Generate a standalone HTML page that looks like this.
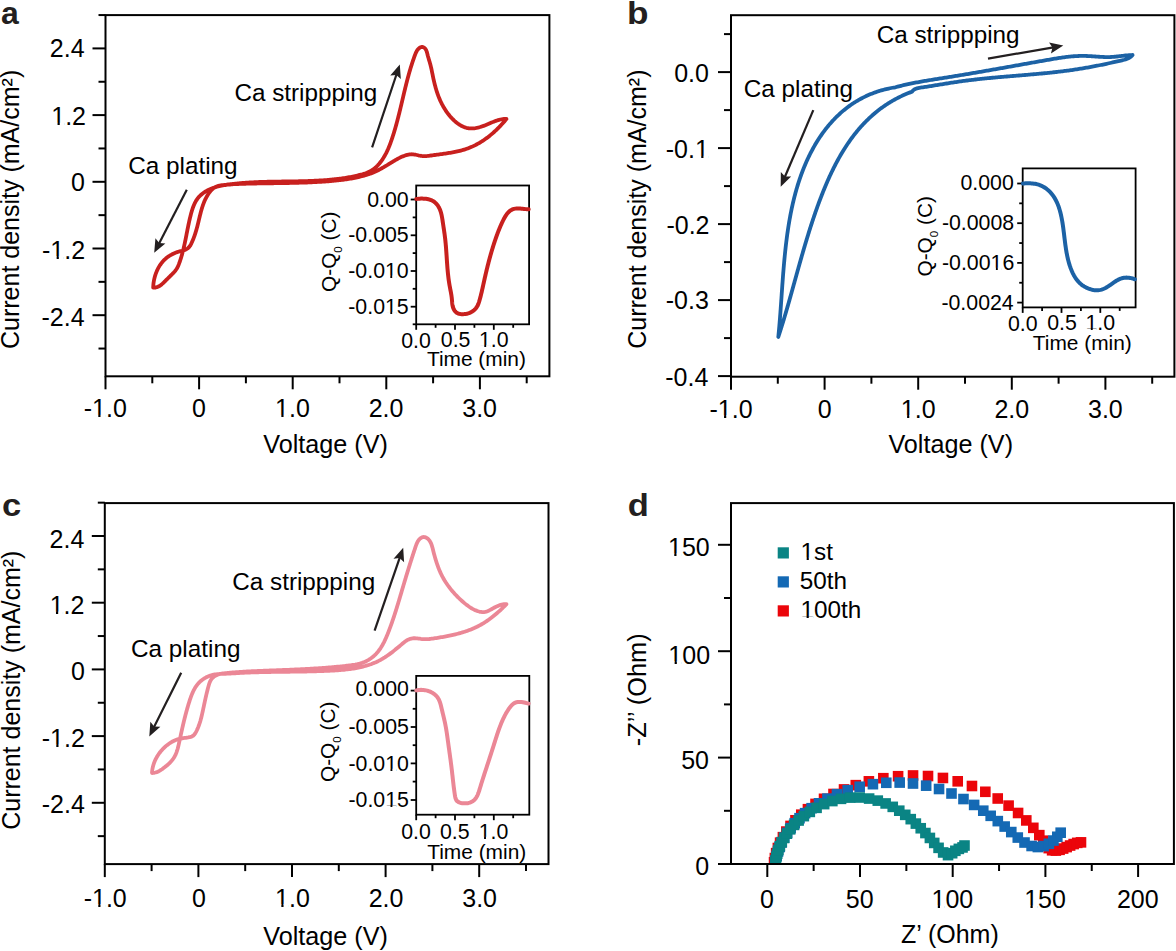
<!DOCTYPE html>
<html><head><meta charset="utf-8"><style>
html,body{margin:0;padding:0;background:#fff;}
svg{display:block;}
text{font-family:"Liberation Sans",sans-serif;}
</style></head><body>
<svg width="1176" height="951" viewBox="0 0 1176 951">
<rect width="1176" height="951" fill="#fff"/>
<defs><clipPath id="dclip"><rect x="731" y="503" width="443" height="361"/></clipPath></defs><g clip-path="url(#dclip)">
<g fill="#eb050a">
<rect x="768.76" y="856.93" width="10.6" height="10.6"/>
<rect x="769.58" y="852.76" width="10.6" height="10.6"/>
<rect x="770.86" y="847.84" width="10.6" height="10.6"/>
<rect x="772.57" y="842.7" width="10.6" height="10.6"/>
<rect x="774.8" y="837.36" width="10.6" height="10.6"/>
<rect x="777.6" y="831.87" width="10.6" height="10.6"/>
<rect x="781.06" y="826.27" width="10.6" height="10.6"/>
<rect x="785.23" y="820.63" width="10.6" height="10.6"/>
<rect x="790.18" y="814.98" width="10.6" height="10.6"/>
<rect x="795.98" y="809.38" width="10.6" height="10.6"/>
<rect x="802.65" y="803.9" width="10.6" height="10.6"/>
<rect x="810.23" y="798.6" width="10.6" height="10.6"/>
<rect x="818.74" y="793.51" width="10.6" height="10.6"/>
<rect x="828.2" y="788.69" width="10.6" height="10.6"/>
<rect x="838.73" y="784.14" width="10.6" height="10.6"/>
<rect x="850.49" y="779.86" width="10.6" height="10.6"/>
<rect x="863.57" y="776.03" width="10.6" height="10.6"/>
<rect x="878.04" y="772.9" width="10.6" height="10.6"/>
<rect x="892.79" y="770.92" width="10.6" height="10.6"/>
<rect x="907.74" y="770.17" width="10.6" height="10.6"/>
<rect x="922.71" y="770.73" width="10.6" height="10.6"/>
<rect x="937.64" y="772.66" width="10.6" height="10.6"/>
<rect x="952.41" y="776.01" width="10.6" height="10.6"/>
<rect x="966.66" y="780.7" width="10.6" height="10.6"/>
<rect x="980.03" y="786.49" width="10.6" height="10.6"/>
<rect x="992.42" y="793.2" width="10.6" height="10.6"/>
<rect x="1003.3" y="800.32" width="10.6" height="10.6"/>
<rect x="1012.78" y="807.68" width="10.6" height="10.6"/>
<rect x="1020.99" y="815.12" width="10.6" height="10.6"/>
<rect x="1028.02" y="822.54" width="10.6" height="10.6"/>
<rect x="1034" y="829.85" width="10.6" height="10.6"/>
<rect x="1037.99" y="835.39" width="10.6" height="10.6"/>
<rect x="1040.67" y="839.39" width="10.6" height="10.6"/>
<rect x="1043.43" y="842.82" width="10.6" height="10.6"/>
<rect x="1046.8" y="844.97" width="10.6" height="10.6"/>
<rect x="1050.56" y="845.28" width="10.6" height="10.6"/>
<rect x="1054.28" y="844.52" width="10.6" height="10.6"/>
<rect x="1057.86" y="843.26" width="10.6" height="10.6"/>
<rect x="1061.36" y="841.78" width="10.6" height="10.6"/>
<rect x="1064.83" y="840.23" width="10.6" height="10.6"/>
<rect x="1068.34" y="838.76" width="10.6" height="10.6"/>
<rect x="1071.94" y="837.56" width="10.6" height="10.6"/>
<rect x="1075.69" y="837.06" width="10.6" height="10.6"/>
</g>
<g fill="#1469b4">
<rect x="769.85" y="857.34" width="10.6" height="10.6"/>
<rect x="770.34" y="854.82" width="10.6" height="10.6"/>
<rect x="771.36" y="850.59" width="10.6" height="10.6"/>
<rect x="772.69" y="846.22" width="10.6" height="10.6"/>
<rect x="774.36" y="841.7" width="10.6" height="10.6"/>
<rect x="776.43" y="837.08" width="10.6" height="10.6"/>
<rect x="778.92" y="832.36" width="10.6" height="10.6"/>
<rect x="781.88" y="827.58" width="10.6" height="10.6"/>
<rect x="785.33" y="822.79" width="10.6" height="10.6"/>
<rect x="789.41" y="817.89" width="10.6" height="10.6"/>
<rect x="794.21" y="812.91" width="10.6" height="10.6"/>
<rect x="799.81" y="807.89" width="10.6" height="10.6"/>
<rect x="806.29" y="802.9" width="10.6" height="10.6"/>
<rect x="813.71" y="798.01" width="10.6" height="10.6"/>
<rect x="822.15" y="793.31" width="10.6" height="10.6"/>
<rect x="831.68" y="788.88" width="10.6" height="10.6"/>
<rect x="842.4" y="784.87" width="10.6" height="10.6"/>
<rect x="854.37" y="781.45" width="10.6" height="10.6"/>
<rect x="867.62" y="778.88" width="10.6" height="10.6"/>
<rect x="880.99" y="777.48" width="10.6" height="10.6"/>
<rect x="894.38" y="777.27" width="10.6" height="10.6"/>
<rect x="907.7" y="778.22" width="10.6" height="10.6"/>
<rect x="920.87" y="780.36" width="10.6" height="10.6"/>
<rect x="933.74" y="783.7" width="10.6" height="10.6"/>
<rect x="946.2" y="788.21" width="10.6" height="10.6"/>
<rect x="958.18" y="793.74" width="10.6" height="10.6"/>
<rect x="968.84" y="799.63" width="10.6" height="10.6"/>
<rect x="977.98" y="805.4" width="10.6" height="10.6"/>
<rect x="985.38" y="810.52" width="10.6" height="10.6"/>
<rect x="992.49" y="815.82" width="10.6" height="10.6"/>
<rect x="999.36" y="821.25" width="10.6" height="10.6"/>
<rect x="1005.98" y="826.77" width="10.6" height="10.6"/>
<rect x="1012.48" y="832.26" width="10.6" height="10.6"/>
<rect x="1019.23" y="837.23" width="10.6" height="10.6"/>
<rect x="1026.3" y="840.7" width="10.6" height="10.6"/>
<rect x="1032.56" y="841.74" width="10.6" height="10.6"/>
<rect x="1038.34" y="840.79" width="10.6" height="10.6"/>
<rect x="1043.57" y="838.47" width="10.6" height="10.6"/>
<rect x="1048.12" y="835.26" width="10.6" height="10.6"/>
<rect x="1052.01" y="831.48" width="10.6" height="10.6"/>
<rect x="1055.38" y="827.4" width="10.6" height="10.6"/>
</g>
<g fill="#0a8484">
<rect x="770.13" y="857.26" width="10.6" height="10.6"/>
<rect x="770.43" y="855.17" width="10.6" height="10.6"/>
<rect x="771.06" y="851.87" width="10.6" height="10.6"/>
<rect x="771.93" y="848.37" width="10.6" height="10.6"/>
<rect x="773.1" y="844.68" width="10.6" height="10.6"/>
<rect x="774.59" y="840.83" width="10.6" height="10.6"/>
<rect x="776.47" y="836.81" width="10.6" height="10.6"/>
<rect x="778.78" y="832.66" width="10.6" height="10.6"/>
<rect x="781.56" y="828.39" width="10.6" height="10.6"/>
<rect x="784.88" y="824.03" width="10.6" height="10.6"/>
<rect x="788.79" y="819.62" width="10.6" height="10.6"/>
<rect x="793.33" y="815.21" width="10.6" height="10.6"/>
<rect x="798.55" y="810.84" width="10.6" height="10.6"/>
<rect x="804.51" y="806.59" width="10.6" height="10.6"/>
<rect x="811.27" y="802.54" width="10.6" height="10.6"/>
<rect x="818.87" y="798.82" width="10.6" height="10.6"/>
<rect x="827.05" y="795.77" width="10.6" height="10.6"/>
<rect x="835.74" y="793.55" width="10.6" height="10.6"/>
<rect x="844.89" y="792.31" width="10.6" height="10.6"/>
<rect x="854.38" y="792.21" width="10.6" height="10.6"/>
<rect x="863.82" y="793.27" width="10.6" height="10.6"/>
<rect x="872.48" y="795.32" width="10.6" height="10.6"/>
<rect x="880.33" y="798.15" width="10.6" height="10.6"/>
<rect x="887.44" y="801.56" width="10.6" height="10.6"/>
<rect x="893.97" y="805.4" width="10.6" height="10.6"/>
<rect x="899.95" y="809.54" width="10.6" height="10.6"/>
<rect x="905.44" y="813.85" width="10.6" height="10.6"/>
<rect x="910.55" y="818.3" width="10.6" height="10.6"/>
<rect x="915.43" y="822.94" width="10.6" height="10.6"/>
<rect x="920.11" y="827.74" width="10.6" height="10.6"/>
<rect x="924.59" y="832.64" width="10.6" height="10.6"/>
<rect x="928.93" y="837.63" width="10.6" height="10.6"/>
<rect x="933.27" y="842.55" width="10.6" height="10.6"/>
<rect x="937.85" y="847.17" width="10.6" height="10.6"/>
<rect x="942.72" y="849.83" width="10.6" height="10.6"/>
<rect x="946.87" y="847.91" width="10.6" height="10.6"/>
<rect x="950.06" y="845.49" width="10.6" height="10.6"/>
<rect x="953.54" y="843.58" width="10.6" height="10.6"/>
<rect x="957.23" y="842.14" width="10.6" height="10.6"/>
<rect x="959.19" y="840.23" width="10.6" height="10.6"/>
</g>
</g>
<line x1="92.5" y1="48.41" x2="105.5" y2="48.41" stroke="#000" stroke-width="2"/>
<line x1="92.5" y1="115.1" x2="105.5" y2="115.1" stroke="#000" stroke-width="2"/>
<line x1="92.5" y1="181.8" x2="105.5" y2="181.8" stroke="#000" stroke-width="2"/>
<line x1="92.5" y1="248.5" x2="105.5" y2="248.5" stroke="#000" stroke-width="2"/>
<line x1="92.5" y1="315.19" x2="105.5" y2="315.19" stroke="#000" stroke-width="2"/>
<line x1="98.5" y1="15.06" x2="105.5" y2="15.06" stroke="#000" stroke-width="2"/>
<line x1="98.5" y1="81.76" x2="105.5" y2="81.76" stroke="#000" stroke-width="2"/>
<line x1="98.5" y1="148.45" x2="105.5" y2="148.45" stroke="#000" stroke-width="2"/>
<line x1="98.5" y1="215.15" x2="105.5" y2="215.15" stroke="#000" stroke-width="2"/>
<line x1="98.5" y1="281.84" x2="105.5" y2="281.84" stroke="#000" stroke-width="2"/>
<line x1="98.5" y1="348.54" x2="105.5" y2="348.54" stroke="#000" stroke-width="2"/>
<line x1="105.5" y1="376.3" x2="105.5" y2="389.3" stroke="#000" stroke-width="2"/>
<line x1="199.1" y1="376.3" x2="199.1" y2="389.3" stroke="#000" stroke-width="2"/>
<line x1="292.7" y1="376.3" x2="292.7" y2="389.3" stroke="#000" stroke-width="2"/>
<line x1="386.3" y1="376.3" x2="386.3" y2="389.3" stroke="#000" stroke-width="2"/>
<line x1="479.9" y1="376.3" x2="479.9" y2="389.3" stroke="#000" stroke-width="2"/>
<line x1="152.3" y1="376.3" x2="152.3" y2="383.3" stroke="#000" stroke-width="2"/>
<line x1="245.9" y1="376.3" x2="245.9" y2="383.3" stroke="#000" stroke-width="2"/>
<line x1="339.5" y1="376.3" x2="339.5" y2="383.3" stroke="#000" stroke-width="2"/>
<line x1="433.1" y1="376.3" x2="433.1" y2="383.3" stroke="#000" stroke-width="2"/>
<line x1="526.7" y1="376.3" x2="526.7" y2="383.3" stroke="#000" stroke-width="2"/>
<rect x="105.5" y="15.1" width="443.9" height="361.2" fill="none" stroke="#000" stroke-width="2"/>
<text x="84.6" y="57.39" font-size="25" text-anchor="end">2.4</text>
<text x="86.04" y="125.06" font-size="25" text-anchor="end">1.2</text>
<text x="84.96" y="191.16" font-size="25" text-anchor="end">0</text>
<text x="85.14" y="258.62" font-size="25" text-anchor="end">-1.2</text>
<text x="84.6" y="325.8" font-size="25" text-anchor="end">-2.4</text>
<text x="105.25" y="417.18" font-size="25" text-anchor="middle">-1.0</text>
<text x="198.85" y="417.18" font-size="25" text-anchor="middle">0</text>
<text x="292.45" y="417.18" font-size="25" text-anchor="middle">1.0</text>
<text x="386.05" y="417.18" font-size="25" text-anchor="middle">2.0</text>
<text x="479.65" y="417.18" font-size="25" text-anchor="middle">3.0</text>
<text x="1.02" y="23.6" font-size="32" font-weight="bold" fill="#231f20">a</text>
<text transform="translate(19.28,349) rotate(-90)" font-size="25">Current density (mA/cm²)</text>
<text x="263.25" y="453.08" font-size="25.2">Voltage (V)</text>
<text x="234.4" y="100.58" font-size="24.25">Ca strippping</text>
<text x="128.2" y="173.61" font-size="24.3">Ca plating</text>
<line x1="372.1" y1="147.4" x2="396.63" y2="73.98" stroke="#231f20" stroke-width="2.2"/>
<path d="M399.8,64.5 L400.83,79.08 L396.31,74.93 L390.21,75.53 Z" fill="#231f20"/>
<line x1="186.8" y1="189.8" x2="158.8" y2="243.92" stroke="#231f20" stroke-width="2.2"/>
<path d="M154.2,252.8 L155.43,238.24 L159.26,243.03 L165.38,243.38 Z" fill="#231f20"/>
<path d="M506.5,118.9 505.74,119.82 504.96,120.73 504.18,121.64 503.39,122.55 502.59,123.44 501.78,124.33 500.96,125.22 500.13,126.09 499.3,126.96 498.45,127.83 497.59,128.68 496.73,129.52 495.86,130.36 494.97,131.18 494.08,132 493.18,132.8 492.27,133.6 491.35,134.38 490.42,135.15 489.48,135.91 488.53,136.66 487.58,137.39 486.61,138.11 485.64,138.82 484.66,139.52 483.67,140.2 482.67,140.86 481.66,141.51 480.64,142.15 479.61,142.77 478.58,143.37 477.53,143.96 476.48,144.53 475.42,145.08 474.35,145.61 473.27,146.13 472.18,146.63 471.08,147.11 469.97,147.57 468.86,148.01 467.74,148.43 466.61,148.83 465.47,149.21 464.32,149.57 463.17,149.91 462.01,150.24 460.84,150.55 459.67,150.85 458.49,151.13 457.31,151.4 456.13,151.66 454.94,151.9 453.75,152.13 452.55,152.35 451.36,152.57 450.16,152.77 448.96,152.97 447.77,153.16 446.57,153.34 445.37,153.52 444.18,153.69 442.98,153.86 441.79,154.03 440.6,154.19 439.42,154.35 438.23,154.52 437.05,154.68 435.87,154.84 434.69,155 433.51,155.17 432.32,155.33 431.13,155.5 429.94,155.66 428.74,155.81 427.55,155.94 426.35,156.04 425.15,156.09 423.95,156.1 422.75,156.05 421.56,155.93 420.37,155.75 419.18,155.52 418,155.26 416.81,154.99 415.63,154.74 414.45,154.52 413.27,154.36 412.09,154.27 410.91,154.28 409.74,154.39 408.56,154.58 407.4,154.84 406.24,155.16 405.09,155.53 403.96,155.93 402.84,156.37 401.73,156.84 400.63,157.34 399.55,157.86 398.47,158.41 397.4,158.98 396.34,159.57 395.28,160.18 394.24,160.79 393.19,161.42 392.15,162.06 391.12,162.7 390.08,163.34 389.05,163.98 388.02,164.62 386.99,165.25 385.96,165.88 384.93,166.49 383.9,167.1 382.86,167.7 381.82,168.28 380.78,168.85 379.73,169.41 378.67,169.96 377.61,170.49 376.54,171.01 375.46,171.52 374.38,172 373.28,172.47 372.17,172.93 371.05,173.36 369.93,173.78 368.78,174.18 367.63,174.56 366.48,174.92 365.31,175.27 364.14,175.61 362.96,175.93 361.78,176.23 360.6,176.53 359.42,176.81 358.24,177.08 357.06,177.35 355.88,177.6 354.69,177.84 353.51,178.07 352.33,178.3 351.14,178.51 349.96,178.71 348.77,178.91 347.59,179.1 346.4,179.28 345.21,179.45 344.03,179.62 342.84,179.77 341.65,179.93 340.46,180.07 339.27,180.21 338.08,180.34 336.89,180.47 335.7,180.59 334.51,180.71 333.31,180.82 332.12,180.93 330.93,181.04 329.73,181.14 328.54,181.24 327.34,181.33 326.15,181.42 324.95,181.51 323.75,181.59 322.55,181.67 321.36,181.75 320.16,181.83 318.96,181.9 317.76,181.97 316.56,182.03 315.36,182.1 314.16,182.16 312.95,182.22 311.75,182.27 310.55,182.33 309.35,182.38 308.14,182.43 306.94,182.48 305.74,182.52 304.53,182.57 303.33,182.61 302.12,182.65 300.92,182.69 299.71,182.72 298.51,182.76 297.3,182.79 296.1,182.82 294.89,182.85 293.68,182.88 292.48,182.91 291.27,182.93 290.06,182.96 288.86,182.98 287.65,183 286.44,183.03 285.24,183.05 284.03,183.07 282.82,183.09 281.62,183.11 280.41,183.12 279.2,183.14 277.99,183.16 276.79,183.18 275.58,183.19 274.37,183.21 273.17,183.23 271.96,183.24 270.75,183.26 269.55,183.28 268.34,183.3 267.14,183.31 265.93,183.33 264.73,183.35 263.52,183.37 262.31,183.39 261.11,183.41 259.91,183.43 258.7,183.45 257.5,183.47 256.29,183.49 255.09,183.51 253.89,183.54 252.69,183.57 251.48,183.59 250.28,183.62 249.08,183.65 247.88,183.68 246.68,183.71 245.48,183.75 244.28,183.78 243.08,183.82 241.88,183.86 240.69,183.9 239.49,183.95 238.29,183.99 237.1,184.04 235.9,184.1 234.71,184.16 233.51,184.22 232.32,184.3 231.13,184.39 229.94,184.49 228.74,184.6 227.55,184.73 226.37,184.87 225.18,185.03 223.99,185.21 222.8,185.41 221.62,185.63 220.43,185.87 219.25,186.13 218.07,186.42 216.89,186.74 215.71,187.08 214.54,187.45 213.38,187.85 212.22,188.27 211.08,188.72 209.96,189.21 208.85,189.72 207.76,190.26 206.69,190.84 205.65,191.44 204.63,192.08 203.65,192.75 202.69,193.45 201.76,194.19 200.87,194.96 200.02,195.77 199.2,196.61 198.43,197.49 197.7,198.4 197.02,199.35 196.37,200.33 195.77,201.34 195.2,202.38 194.67,203.45 194.16,204.54 193.69,205.65 193.25,206.77 192.83,207.92 192.43,209.08 192.06,210.25 191.7,211.42 191.37,212.61 191.04,213.8 190.73,214.99 190.43,216.18 190.13,217.37 189.85,218.56 189.57,219.75 189.3,220.94 189.04,222.12 188.78,223.31 188.53,224.49 188.28,225.67 188.04,226.85 187.8,228.03 187.56,229.21 187.33,230.39 187.1,231.57 186.87,232.74 186.63,233.92 186.4,235.09 186.17,236.26 185.94,237.44 185.71,238.61 185.47,239.78 185.23,240.94 184.99,242.11 184.74,243.28 184.49,244.45 184.23,245.61 183.97,246.77 183.7,247.94 183.42,249.1 183.13,250.26 182.84,251.42 182.54,252.58 182.23,253.74 181.91,254.9 181.58,256.06 181.23,257.21 180.88,258.37 180.51,259.52 180.13,260.68 179.74,261.83 179.33,262.98 178.9,264.13 178.44,265.26 177.95,266.37 177.42,267.45 176.83,268.5 176.19,269.5 175.5,270.47 174.76,271.39 173.97,272.28 173.15,273.15 172.31,274.01 171.46,274.85 170.6,275.7 169.73,276.54 168.87,277.39 168.02,278.25 167.16,279.1 166.29,279.96 165.43,280.82 164.56,281.67 163.68,282.52 162.78,283.36 161.87,284.17 160.94,284.94 159.98,285.65 158.98,286.28 157.94,286.81 156.84,287.22 155.69,287.5 154.48,287.64 153.2,287.6 153.24,286.44 153.32,285.27 153.42,284.09 153.56,282.91 153.74,281.73 153.94,280.54 154.18,279.36 154.45,278.18 154.76,277 155.09,275.82 155.46,274.66 155.86,273.5 156.3,272.36 156.77,271.23 157.26,270.11 157.8,269.01 158.36,267.93 158.96,266.87 159.59,265.83 160.25,264.82 160.94,263.83 161.67,262.87 162.42,261.94 163.21,261.04 164.04,260.17 164.89,259.34 165.77,258.55 166.69,257.79 167.64,257.07 168.61,256.38 169.61,255.73 170.64,255.12 171.68,254.54 172.75,254 173.84,253.49 174.95,253.01 176.08,252.57 177.22,252.16 178.37,251.78 179.54,251.44 180.71,251.12 181.89,250.83 183.07,250.51 184.24,250.14 185.39,249.69 186.5,249.15 187.53,248.51 188.46,247.76 189.27,246.9 189.98,245.94 190.6,244.91 191.16,243.83 191.68,242.73 192.18,241.63 192.66,240.52 193.12,239.41 193.57,238.29 193.99,237.17 194.4,236.05 194.79,234.92 195.17,233.78 195.53,232.64 195.88,231.5 196.22,230.35 196.55,229.2 196.87,228.05 197.18,226.89 197.49,225.72 197.78,224.56 198.07,223.39 198.36,222.21 198.64,221.03 198.92,219.85 199.2,218.67 199.49,217.49 199.77,216.31 200.06,215.13 200.36,213.95 200.66,212.77 200.97,211.6 201.29,210.43 201.62,209.27 201.97,208.11 202.33,206.96 202.71,205.81 203.1,204.68 203.52,203.55 203.95,202.43 204.41,201.32 204.89,200.23 205.4,199.14 205.93,198.07 206.49,197.02 207.08,195.97 207.7,194.95 208.36,193.93 209.04,192.94 209.77,191.98 210.53,191.04 211.34,190.16 212.19,189.32 213.09,188.55 214.03,187.84 215.03,187.22 216.07,186.68 217.18,186.24 218.34,185.89 219.53,185.62 220.76,185.41 222,185.24 223.24,185.08 224.47,184.93 225.7,184.78 226.91,184.63 228.11,184.48 229.31,184.34 230.51,184.19 231.7,184.05 232.88,183.91 234.07,183.78 235.25,183.65 236.44,183.52 237.63,183.41 238.81,183.29 240,183.18 241.19,183.08 242.38,182.98 243.58,182.89 244.77,182.8 245.96,182.71 247.16,182.63 248.35,182.55 249.55,182.48 250.75,182.41 251.94,182.34 253.14,182.28 254.34,182.22 255.54,182.17 256.74,182.11 257.94,182.06 259.14,182.02 260.34,181.97 261.54,181.93 262.75,181.89 263.95,181.86 265.15,181.82 266.36,181.79 267.56,181.76 268.77,181.73 269.97,181.71 271.18,181.68 272.38,181.66 273.59,181.64 274.8,181.62 276,181.6 277.21,181.58 278.42,181.56 279.62,181.54 280.83,181.53 282.04,181.51 283.25,181.49 284.46,181.48 285.66,181.46 286.87,181.45 288.08,181.43 289.29,181.41 290.49,181.4 291.7,181.38 292.91,181.36 294.12,181.34 295.33,181.32 296.53,181.3 297.74,181.28 298.95,181.25 300.15,181.23 301.36,181.2 302.57,181.17 303.77,181.14 304.98,181.11 306.18,181.07 307.39,181.04 308.59,181 309.8,180.96 311,180.91 312.2,180.86 313.41,180.81 314.61,180.76 315.81,180.7 317.01,180.64 318.21,180.58 319.41,180.51 320.61,180.44 321.81,180.37 323.01,180.29 324.2,180.21 325.4,180.12 326.6,180.03 327.79,179.93 328.99,179.83 330.18,179.73 331.37,179.62 332.56,179.5 333.76,179.38 334.95,179.25 336.14,179.12 337.32,178.98 338.51,178.84 339.7,178.69 340.89,178.53 342.07,178.37 343.26,178.2 344.45,178.02 345.63,177.83 346.82,177.64 348,177.44 349.18,177.23 350.37,177.01 351.55,176.78 352.73,176.54 353.92,176.3 355.1,176.04 356.28,175.78 357.46,175.51 358.65,175.22 359.83,174.93 361.01,174.62 362.19,174.31 363.36,173.97 364.53,173.61 365.68,173.23 366.82,172.81 367.93,172.35 369.02,171.85 370.08,171.31 371.12,170.71 372.12,170.08 373.1,169.4 374.06,168.69 374.98,167.93 375.88,167.14 376.75,166.32 377.6,165.47 378.42,164.59 379.22,163.69 379.99,162.75 380.74,161.8 381.46,160.83 382.16,159.84 382.84,158.83 383.49,157.81 384.12,156.77 384.73,155.73 385.32,154.68 385.89,153.62 386.43,152.55 386.96,151.47 387.47,150.38 387.97,149.29 388.44,148.19 388.91,147.09 389.36,145.98 389.8,144.86 390.22,143.74 390.64,142.61 391.04,141.48 391.44,140.35 391.83,139.21 392.21,138.07 392.59,136.93 392.96,135.78 393.32,134.63 393.68,133.48 394.04,132.33 394.39,131.17 394.73,130.02 395.07,128.86 395.4,127.7 395.73,126.54 396.06,125.37 396.38,124.21 396.7,123.04 397.01,121.87 397.32,120.71 397.63,119.54 397.93,118.37 398.23,117.2 398.53,116.03 398.82,114.86 399.12,113.69 399.41,112.52 399.69,111.34 399.98,110.17 400.26,109 400.54,107.83 400.82,106.66 401.1,105.49 401.38,104.33 401.65,103.16 401.93,101.99 402.2,100.82 402.48,99.66 402.75,98.49 403.02,97.33 403.3,96.16 403.57,95 403.85,93.83 404.12,92.67 404.4,91.51 404.68,90.34 404.96,89.18 405.24,88.02 405.53,86.86 405.82,85.69 406.11,84.53 406.4,83.37 406.69,82.21 406.99,81.05 407.29,79.89 407.6,78.73 407.91,77.57 408.22,76.41 408.54,75.25 408.86,74.09 409.18,72.93 409.51,71.77 409.85,70.61 410.19,69.45 410.54,68.29 410.89,67.13 411.25,65.97 411.62,64.81 411.99,63.65 412.37,62.49 412.75,61.33 413.14,60.17 413.54,59.01 413.95,57.85 414.37,56.68 414.79,55.52 415.22,54.36 415.68,53.22 416.19,52.11 416.75,51.05 417.4,50.05 418.14,49.12 418.99,48.3 419.96,47.6 421,47.12 422.07,46.94 423.12,47.13 424.11,47.63 424.99,48.39 425.71,49.34 426.28,50.44 426.73,51.63 427.11,52.89 427.44,54.17 427.75,55.43 428.08,56.65 428.41,57.83 428.74,58.98 429.07,60.11 429.41,61.22 429.73,62.33 430.05,63.44 430.36,64.56 430.66,65.69 430.94,66.84 431.21,68.01 431.47,69.19 431.72,70.38 431.96,71.58 432.2,72.78 432.45,73.99 432.69,75.19 432.93,76.4 433.19,77.59 433.44,78.79 433.71,79.98 433.98,81.16 434.25,82.34 434.54,83.51 434.83,84.68 435.14,85.84 435.45,87 435.77,88.15 436.11,89.29 436.45,90.43 436.81,91.57 437.18,92.69 437.56,93.82 437.96,94.93 438.37,96.04 438.8,97.14 439.24,98.24 439.7,99.33 440.17,100.41 440.66,101.48 441.17,102.55 441.7,103.61 442.24,104.67 442.81,105.71 443.39,106.75 444,107.78 444.62,108.8 445.27,109.82 445.94,110.83 446.63,111.83 447.35,112.82 448.09,113.8 448.85,114.77 449.64,115.74 450.45,116.69 451.29,117.63 452.15,118.55 453.03,119.44 453.93,120.32 454.85,121.16 455.8,121.98 456.76,122.76 457.74,123.5 458.74,124.2 459.75,124.87 460.78,125.48 461.83,126.05 462.89,126.56 463.97,127.02 465.06,127.42 466.16,127.76 467.28,128.03 468.41,128.24 469.55,128.38 470.69,128.45 471.85,128.45 473.02,128.4 474.19,128.28 475.36,128.12 476.54,127.91 477.72,127.65 478.9,127.35 480.08,127.02 481.25,126.66 482.43,126.26 483.59,125.85 484.76,125.41 485.91,124.96 487.06,124.49 488.2,124.02 489.32,123.54 490.43,123.06 491.54,122.59 492.63,122.12 493.73,121.67 494.82,121.24 495.92,120.83 497.02,120.45 498.13,120.09 499.26,119.78 500.41,119.5 501.57,119.27 502.76,119.09 503.98,118.97 505.22,118.9 506.5,118.9Z" fill="none" stroke="#c8201e" stroke-width="3.8" stroke-linejoin="round" stroke-linecap="round"/>
<line x1="410.7" y1="199.5" x2="416.2" y2="199.5" stroke="#000" stroke-width="1.8"/>
<line x1="410.7" y1="235.3" x2="416.2" y2="235.3" stroke="#000" stroke-width="1.8"/>
<line x1="410.7" y1="271" x2="416.2" y2="271" stroke="#000" stroke-width="1.8"/>
<line x1="410.7" y1="306.7" x2="416.2" y2="306.7" stroke="#000" stroke-width="1.8"/>
<line x1="412.7" y1="217.4" x2="416.2" y2="217.4" stroke="#000" stroke-width="1.8"/>
<line x1="412.7" y1="253.1" x2="416.2" y2="253.1" stroke="#000" stroke-width="1.8"/>
<line x1="412.7" y1="288.8" x2="416.2" y2="288.8" stroke="#000" stroke-width="1.8"/>
<line x1="412.7" y1="324.3" x2="416.2" y2="324.3" stroke="#000" stroke-width="1.8"/>
<line x1="416.2" y1="324.3" x2="416.2" y2="329.8" stroke="#000" stroke-width="1.8"/>
<line x1="455" y1="324.3" x2="455" y2="329.8" stroke="#000" stroke-width="1.8"/>
<line x1="493.8" y1="324.3" x2="493.8" y2="329.8" stroke="#000" stroke-width="1.8"/>
<line x1="435.6" y1="324.3" x2="435.6" y2="327.8" stroke="#000" stroke-width="1.8"/>
<line x1="474.4" y1="324.3" x2="474.4" y2="327.8" stroke="#000" stroke-width="1.8"/>
<line x1="513.2" y1="324.3" x2="513.2" y2="327.8" stroke="#000" stroke-width="1.8"/>
<rect x="416.2" y="185.5" width="112.9" height="138.8" fill="none" stroke="#000" stroke-width="1.8"/>
<text x="408.71" y="207.2" font-size="21.3" text-anchor="end">0.00</text>
<text x="408.68" y="242.45" font-size="21.3" text-anchor="end">-0.005</text>
<text x="408.68" y="277.61" font-size="21.3" text-anchor="end">-0.010</text>
<text x="408.68" y="313.99" font-size="21.3" text-anchor="end">-0.015</text>
<text x="415.93" y="348.2" font-size="21.3" text-anchor="middle">0.0</text>
<text x="455.6" y="347" font-size="21.3" text-anchor="middle">0.5</text>
<text x="493.75" y="347" font-size="21.3" text-anchor="middle">1.0</text>
<path d="M416.3,199 417.41,198.87 418.56,198.76 419.76,198.67 420.98,198.62 422.22,198.6 423.47,198.63 424.73,198.71 425.98,198.84 427.22,199.02 428.45,199.27 429.64,199.59 430.8,199.98 431.91,200.45 432.97,201 433.97,201.65 434.9,202.37 435.78,203.17 436.59,204.04 437.35,204.96 438.04,205.94 438.67,206.96 439.23,208.02 439.74,209.1 440.19,210.21 440.6,211.35 440.95,212.5 441.27,213.67 441.55,214.86 441.8,216.06 442.03,217.26 442.23,218.47 442.43,219.69 442.61,220.91 442.79,222.12 442.97,223.33 443.15,224.53 443.34,225.73 443.52,226.93 443.7,228.12 443.88,229.32 444.06,230.51 444.23,231.69 444.4,232.88 444.57,234.07 444.73,235.26 444.88,236.45 445.03,237.64 445.17,238.83 445.31,240.03 445.43,241.23 445.55,242.43 445.67,243.63 445.77,244.83 445.88,246.04 445.98,247.24 446.07,248.45 446.16,249.66 446.25,250.87 446.34,252.08 446.42,253.29 446.5,254.5 446.58,255.72 446.66,256.93 446.74,258.14 446.82,259.36 446.9,260.57 446.99,261.78 447.07,263 447.16,264.21 447.24,265.42 447.34,266.63 447.43,267.84 447.53,269.05 447.64,270.26 447.75,271.47 447.86,272.67 447.98,273.87 448.11,275.08 448.25,276.28 448.39,277.47 448.54,278.67 448.7,279.86 448.86,281.05 449.04,282.24 449.23,283.43 449.43,284.61 449.63,285.79 449.85,286.97 450.08,288.15 450.31,289.32 450.54,290.5 450.77,291.68 450.99,292.87 451.2,294.06 451.4,295.26 451.57,296.47 451.73,297.69 451.86,298.93 451.97,300.18 452.07,301.43 452.17,302.68 452.3,303.92 452.48,305.15 452.72,306.34 453.04,307.5 453.46,308.62 453.98,309.68 454.61,310.67 455.34,311.56 456.18,312.35 457.11,313 458.15,313.51 459.27,313.86 460.47,314.08 461.71,314.17 462.96,314.18 464.22,314.1 465.46,313.96 466.68,313.74 467.87,313.45 469.04,313.07 470.18,312.61 471.27,312.07 472.32,311.45 473.32,310.76 474.25,310 475.12,309.17 475.92,308.27 476.63,307.32 477.26,306.3 477.8,305.23 478.28,304.12 478.69,302.98 479.07,301.82 479.42,300.64 479.76,299.47 480.08,298.29 480.39,297.12 480.7,295.94 480.99,294.77 481.28,293.59 481.57,292.42 481.84,291.24 482.11,290.06 482.38,288.89 482.64,287.71 482.9,286.54 483.16,285.36 483.42,284.19 483.68,283.01 483.94,281.83 484.2,280.66 484.46,279.48 484.72,278.3 484.99,277.12 485.26,275.94 485.53,274.76 485.8,273.58 486.08,272.4 486.36,271.23 486.64,270.05 486.93,268.87 487.22,267.69 487.51,266.51 487.81,265.34 488.1,264.16 488.41,262.98 488.71,261.81 489.02,260.63 489.33,259.46 489.65,258.29 489.97,257.12 490.29,255.95 490.62,254.78 490.95,253.62 491.29,252.45 491.63,251.29 491.97,250.13 492.32,248.97 492.67,247.81 493.03,246.66 493.39,245.5 493.76,244.35 494.13,243.2 494.51,242.06 494.89,240.91 495.27,239.77 495.66,238.64 496.06,237.5 496.46,236.37 496.86,235.24 497.28,234.11 497.69,232.99 498.12,231.87 498.55,230.75 499,229.63 499.45,228.52 499.91,227.4 500.39,226.29 500.87,225.18 501.37,224.07 501.88,222.97 502.41,221.86 502.95,220.75 503.51,219.64 504.09,218.54 504.68,217.45 505.31,216.37 505.97,215.33 506.66,214.32 507.4,213.36 508.19,212.47 509.03,211.64 509.93,210.88 510.9,210.22 511.93,209.65 513.02,209.19 514.16,208.85 515.35,208.63 516.56,208.49 517.78,208.44 519.01,208.46 520.24,208.53 521.47,208.64 522.69,208.77 523.91,208.9 525.12,209.03 526.32,209.13 527.52,209.19 528.7,209.2" fill="none" stroke="#c8201e" stroke-width="4.0" stroke-linejoin="round" stroke-linecap="round"/>
<text x="426.92" y="366.25" font-size="20.9">Time (min)</text>
<text transform="translate(335.93,291.97) rotate(-90)" font-size="20.8">Q-Q<tspan font-size="11.5" dy="5.8">0</tspan><tspan dy="-5.8"> (C)</tspan></text>
<line x1="718" y1="72.1" x2="731" y2="72.1" stroke="#000" stroke-width="2"/>
<line x1="718" y1="148.1" x2="731" y2="148.1" stroke="#000" stroke-width="2"/>
<line x1="718" y1="224.1" x2="731" y2="224.1" stroke="#000" stroke-width="2"/>
<line x1="718" y1="300.1" x2="731" y2="300.1" stroke="#000" stroke-width="2"/>
<line x1="718" y1="376.1" x2="731" y2="376.1" stroke="#000" stroke-width="2"/>
<line x1="724" y1="34.1" x2="731" y2="34.1" stroke="#000" stroke-width="2"/>
<line x1="724" y1="110.1" x2="731" y2="110.1" stroke="#000" stroke-width="2"/>
<line x1="724" y1="186.1" x2="731" y2="186.1" stroke="#000" stroke-width="2"/>
<line x1="724" y1="262.1" x2="731" y2="262.1" stroke="#000" stroke-width="2"/>
<line x1="724" y1="338.1" x2="731" y2="338.1" stroke="#000" stroke-width="2"/>
<line x1="731" y1="376.7" x2="731" y2="389.7" stroke="#000" stroke-width="2"/>
<line x1="824.6" y1="376.7" x2="824.6" y2="389.7" stroke="#000" stroke-width="2"/>
<line x1="918.2" y1="376.7" x2="918.2" y2="389.7" stroke="#000" stroke-width="2"/>
<line x1="1011.8" y1="376.7" x2="1011.8" y2="389.7" stroke="#000" stroke-width="2"/>
<line x1="1105.4" y1="376.7" x2="1105.4" y2="389.7" stroke="#000" stroke-width="2"/>
<line x1="777.8" y1="376.7" x2="777.8" y2="383.7" stroke="#000" stroke-width="2"/>
<line x1="871.4" y1="376.7" x2="871.4" y2="383.7" stroke="#000" stroke-width="2"/>
<line x1="965" y1="376.7" x2="965" y2="383.7" stroke="#000" stroke-width="2"/>
<line x1="1058.6" y1="376.7" x2="1058.6" y2="383.7" stroke="#000" stroke-width="2"/>
<line x1="1152.2" y1="376.7" x2="1152.2" y2="383.7" stroke="#000" stroke-width="2"/>
<rect x="731" y="15.2" width="443.4" height="361.5" fill="none" stroke="#000" stroke-width="2"/>
<text x="708.9" y="82" font-size="25" text-anchor="end">0.0</text>
<text x="708.9" y="158.15" font-size="25" text-anchor="end">-0.1</text>
<text x="709.54" y="233.64" font-size="25" text-anchor="end">-0.2</text>
<text x="708.9" y="309.35" font-size="25" text-anchor="end">-0.3</text>
<text x="708.34" y="385.82" font-size="25" text-anchor="end">-0.4</text>
<text x="731" y="417.6" font-size="25" text-anchor="middle">-1.0</text>
<text x="824.6" y="417.6" font-size="25" text-anchor="middle">0</text>
<text x="918.2" y="417.6" font-size="25" text-anchor="middle">1.0</text>
<text x="1011.8" y="417.6" font-size="25" text-anchor="middle">2.0</text>
<text x="1105.4" y="417.6" font-size="25" text-anchor="middle">3.0</text>
<text transform="translate(627.03,23.6) scale(1.1,1)" font-size="32" font-weight="bold" fill="#231f20">b</text>
<text transform="translate(645.6,348.76) rotate(-90)" font-size="25">Current density (mA/cm²)</text>
<text x="888.41" y="453.3" font-size="25.2">Voltage (V)</text>
<text x="876.7" y="43.28" font-size="24.25">Ca strippping</text>
<text x="743.7" y="97" font-size="24.3">Ca plating</text>
<line x1="988" y1="58.6" x2="1053.45" y2="47.3" stroke="#231f20" stroke-width="2.2"/>
<path d="M1063.3,45.6 L1050.95,53.42 L1052.46,47.47 L1049.04,42.38 Z" fill="#231f20"/>
<line x1="813.3" y1="110.1" x2="784.62" y2="177.5" stroke="#231f20" stroke-width="2.2"/>
<path d="M780.7,186.7 L780.83,172.09 L785.01,176.58 L791.14,176.47 Z" fill="#231f20"/>
<path d="M1132.6,55 1131.75,55.93 1130.84,56.74 1129.87,57.43 1128.85,58.03 1127.79,58.55 1126.68,58.99 1125.55,59.38 1124.39,59.72 1123.22,60.02 1122.04,60.31 1120.85,60.58 1119.66,60.86 1118.47,61.13 1117.28,61.4 1116.09,61.67 1114.9,61.94 1113.71,62.21 1112.53,62.47 1111.34,62.74 1110.15,63 1108.96,63.26 1107.77,63.51 1106.58,63.77 1105.39,64.02 1104.2,64.27 1103.01,64.52 1101.82,64.77 1100.63,65.01 1099.44,65.25 1098.25,65.49 1097.06,65.73 1095.86,65.96 1094.67,66.19 1093.48,66.42 1092.29,66.65 1091.1,66.87 1089.9,67.09 1088.71,67.31 1087.52,67.52 1086.32,67.73 1085.13,67.94 1083.93,68.15 1082.74,68.35 1081.54,68.55 1080.35,68.74 1079.15,68.93 1077.96,69.12 1076.76,69.31 1075.56,69.49 1074.36,69.67 1073.17,69.84 1071.97,70.01 1070.77,70.18 1069.57,70.35 1068.37,70.51 1067.17,70.67 1065.97,70.83 1064.77,70.98 1063.57,71.14 1062.37,71.29 1061.16,71.43 1059.96,71.58 1058.76,71.72 1057.56,71.86 1056.36,72 1055.15,72.13 1053.95,72.26 1052.75,72.39 1051.54,72.52 1050.34,72.65 1049.13,72.78 1047.93,72.9 1046.72,73.02 1045.52,73.14 1044.31,73.26 1043.11,73.38 1041.9,73.49 1040.7,73.6 1039.49,73.72 1038.28,73.83 1037.08,73.94 1035.87,74.05 1034.66,74.15 1033.46,74.26 1032.25,74.37 1031.04,74.47 1029.83,74.58 1028.63,74.68 1027.42,74.78 1026.21,74.88 1025,74.99 1023.8,75.09 1022.59,75.19 1021.38,75.29 1020.17,75.39 1018.96,75.49 1017.75,75.59 1016.55,75.69 1015.34,75.79 1014.13,75.89 1012.92,75.99 1011.71,76.09 1010.5,76.19 1009.3,76.29 1008.09,76.39 1006.88,76.49 1005.67,76.59 1004.46,76.69 1003.25,76.8 1002.04,76.9 1000.84,77 999.63,77.11 998.42,77.22 997.21,77.32 996,77.43 994.79,77.54 993.59,77.65 992.38,77.76 991.17,77.87 989.96,77.99 988.75,78.1 987.55,78.22 986.34,78.34 985.13,78.46 983.92,78.58 982.72,78.71 981.51,78.83 980.3,78.96 979.1,79.09 977.89,79.22 976.68,79.36 975.48,79.49 974.27,79.63 973.07,79.77 971.86,79.91 970.66,80.06 969.45,80.21 968.25,80.36 967.04,80.51 965.84,80.66 964.63,80.82 963.43,80.98 962.22,81.15 961.02,81.31 959.82,81.48 958.61,81.66 957.41,81.83 956.21,82.01 955.01,82.19 953.81,82.37 952.61,82.55 951.41,82.74 950.21,82.93 949.01,83.12 947.81,83.31 946.61,83.5 945.41,83.69 944.21,83.88 943.02,84.08 941.82,84.27 940.62,84.46 939.43,84.66 938.23,84.85 937.04,85.05 935.85,85.24 934.66,85.44 933.47,85.63 932.27,85.82 931.09,86.01 929.9,86.2 928.71,86.39 927.52,86.58 926.33,86.76 925.15,86.95 923.97,87.13 922.78,87.31 921.6,87.49 920.42,87.66 919.24,87.84 918.08,88.05 916.94,88.33 915.83,88.7 914.78,89.19 913.78,89.83 912.85,90.66 912,91.7 910.79,92.15 909.59,92.61 908.39,93.08 907.21,93.57 906.04,94.06 904.88,94.56 903.72,95.07 902.58,95.59 901.44,96.12 900.32,96.66 899.2,97.21 898.1,97.76 897,98.33 895.91,98.91 894.83,99.49 893.76,100.08 892.7,100.69 891.65,101.3 890.61,101.92 889.57,102.55 888.55,103.19 887.53,103.83 886.52,104.49 885.52,105.15 884.53,105.82 883.55,106.5 882.58,107.19 881.61,107.89 880.66,108.59 879.71,109.3 878.77,110.02 877.83,110.75 876.91,111.49 875.99,112.23 875.09,112.98 874.19,113.74 873.29,114.51 872.41,115.28 871.53,116.06 870.66,116.85 869.8,117.65 868.95,118.45 868.1,119.26 867.26,120.08 866.43,120.9 865.61,121.73 864.79,122.57 863.98,123.41 863.18,124.26 862.38,125.12 861.59,125.98 860.81,126.85 860.04,127.73 859.27,128.61 858.51,129.5 857.76,130.39 857.01,131.29 856.27,132.2 855.54,133.11 854.81,134.03 854.09,134.95 853.37,135.88 852.67,136.82 851.96,137.76 851.27,138.71 850.58,139.66 849.9,140.62 849.22,141.58 848.55,142.55 847.88,143.52 847.23,144.5 846.57,145.48 845.93,146.47 845.28,147.46 844.65,148.46 844.02,149.46 843.39,150.47 842.77,151.48 842.16,152.49 841.55,153.51 840.95,154.54 840.35,155.56 839.76,156.6 839.17,157.63 838.59,158.68 838.01,159.72 837.44,160.77 836.88,161.82 836.31,162.88 835.76,163.94 835.2,165 834.66,166.07 834.11,167.14 833.57,168.21 833.04,169.29 832.51,170.37 831.99,171.45 831.47,172.54 830.95,173.63 830.44,174.72 829.93,175.82 829.42,176.91 828.93,178.02 828.43,179.12 827.94,180.23 827.45,181.33 826.97,182.45 826.49,183.56 826.01,184.68 825.54,185.79 825.07,186.91 824.6,188.04 824.14,189.16 823.68,190.29 823.23,191.42 822.78,192.55 822.33,193.68 821.88,194.81 821.44,195.95 821,197.08 820.56,198.22 820.13,199.36 819.7,200.5 819.27,201.64 818.85,202.78 818.43,203.93 818.01,205.07 817.59,206.22 817.18,207.37 816.77,208.52 816.36,209.67 815.96,210.82 815.55,211.97 815.15,213.12 814.76,214.28 814.36,215.43 813.97,216.59 813.58,217.75 813.19,218.9 812.8,220.06 812.42,221.22 812.04,222.38 811.66,223.54 811.28,224.7 810.9,225.87 810.53,227.03 810.16,228.19 809.79,229.36 809.42,230.52 809.05,231.69 808.69,232.85 808.33,234.02 807.97,235.19 807.61,236.35 807.25,237.52 806.89,238.69 806.54,239.86 806.19,241.03 805.84,242.2 805.49,243.37 805.14,244.54 804.79,245.71 804.45,246.88 804.1,248.05 803.76,249.23 803.42,250.4 803.08,251.57 802.74,252.74 802.4,253.91 802.06,255.09 801.72,256.26 801.39,257.43 801.05,258.6 800.72,259.77 800.39,260.95 800.06,262.12 799.72,263.29 799.39,264.46 799.06,265.64 798.73,266.81 798.41,267.98 798.08,269.15 797.75,270.32 797.42,271.49 797.1,272.66 796.77,273.83 796.45,275 796.12,276.17 795.8,277.34 795.47,278.51 795.15,279.68 794.82,280.85 794.5,282.02 794.17,283.18 793.85,284.35 793.52,285.52 793.2,286.68 792.88,287.85 792.55,289.01 792.23,290.17 791.9,291.34 791.58,292.5 791.25,293.66 790.93,294.82 790.6,295.98 790.27,297.14 789.95,298.3 789.62,299.45 789.29,300.61 788.97,301.77 788.64,302.92 788.31,304.07 787.98,305.23 787.65,306.38 787.31,307.53 786.98,308.68 786.65,309.83 786.31,310.97 785.98,312.12 785.64,313.27 785.31,314.41 784.97,315.55 784.63,316.69 784.29,317.83 783.95,318.97 783.61,320.11 783.26,321.25 782.92,322.38 782.57,323.51 782.22,324.65 781.87,325.78 781.52,326.91 781.17,328.03 780.82,329.16 780.46,330.29 780.11,331.41 779.75,332.53 779.39,333.65 779.03,334.77 778.66,335.88 778.3,337 778.42,335.85 778.53,334.7 778.64,333.55 778.75,332.39 778.86,331.24 778.97,330.08 779.07,328.92 779.18,327.75 779.28,326.59 779.38,325.42 779.48,324.25 779.58,323.08 779.67,321.9 779.77,320.73 779.86,319.55 779.96,318.37 780.05,317.19 780.14,316 780.23,314.82 780.32,313.63 780.41,312.44 780.5,311.25 780.58,310.06 780.67,308.87 780.75,307.67 780.84,306.47 780.92,305.28 781.01,304.08 781.09,302.88 781.18,301.67 781.26,300.47 781.34,299.27 781.43,298.06 781.51,296.85 781.6,295.64 781.68,294.43 781.76,293.22 781.85,292.01 781.93,290.8 782.02,289.58 782.1,288.37 782.19,287.15 782.28,285.94 782.36,284.72 782.45,283.5 782.54,282.28 782.63,281.06 782.72,279.84 782.81,278.62 782.9,277.4 782.99,276.18 783.09,274.95 783.18,273.73 783.28,272.51 783.38,271.28 783.48,270.06 783.58,268.83 783.68,267.61 783.79,266.38 783.89,265.16 784,263.93 784.11,262.7 784.22,261.48 784.33,260.25 784.45,259.02 784.56,257.8 784.68,256.57 784.8,255.35 784.93,254.12 785.05,252.89 785.18,251.67 785.31,250.44 785.44,249.22 785.58,247.99 785.71,246.77 785.85,245.54 786,244.32 786.14,243.09 786.29,241.87 786.44,240.65 786.6,239.42 786.75,238.2 786.91,236.98 787.08,235.76 787.24,234.54 787.41,233.32 787.59,232.1 787.76,230.89 787.94,229.67 788.13,228.46 788.31,227.24 788.51,226.03 788.7,224.81 788.9,223.6 789.1,222.39 789.31,221.18 789.52,219.97 789.73,218.77 789.95,217.56 790.17,216.35 790.39,215.15 790.63,213.95 790.86,212.75 791.1,211.55 791.34,210.35 791.59,209.15 791.84,207.96 792.1,206.77 792.36,205.57 792.63,204.38 792.9,203.19 793.18,202.01 793.46,200.82 793.74,199.64 794.03,198.46 794.33,197.28 794.63,196.1 794.94,194.92 795.25,193.75 795.57,192.58 795.89,191.41 796.22,190.24 796.55,189.08 796.89,187.91 797.24,186.75 797.59,185.59 797.95,184.43 798.31,183.28 798.68,182.13 799.05,180.98 799.43,179.83 799.82,178.68 800.21,177.54 800.61,176.4 801.02,175.26 801.43,174.13 801.85,173 802.27,171.87 802.7,170.74 803.14,169.62 803.58,168.5 804.03,167.38 804.49,166.27 804.96,165.16 805.43,164.05 805.9,162.95 806.39,161.85 806.88,160.75 807.38,159.66 807.88,158.57 808.39,157.48 808.91,156.4 809.43,155.33 809.97,154.26 810.5,153.19 811.05,152.13 811.6,151.07 812.16,150.02 812.73,148.97 813.3,147.93 813.88,146.89 814.47,145.86 815.07,144.83 815.67,143.81 816.28,142.79 816.9,141.78 817.52,140.77 818.15,139.77 818.79,138.78 819.44,137.79 820.09,136.81 820.76,135.83 821.42,134.87 822.1,133.9 822.79,132.95 823.48,132 824.18,131.05 824.88,130.12 825.6,129.19 826.32,128.26 827.05,127.35 827.79,126.44 828.53,125.54 829.29,124.64 830.05,123.76 830.82,122.88 831.6,122.01 832.38,121.15 833.17,120.29 833.98,119.44 834.78,118.6 835.6,117.77 836.43,116.95 837.26,116.13 838.1,115.33 838.95,114.53 839.81,113.74 840.68,112.96 841.55,112.19 842.43,111.43 843.33,110.67 844.23,109.93 845.13,109.19 846.05,108.47 846.98,107.75 847.91,107.04 848.85,106.35 849.8,105.66 850.76,104.98 851.73,104.31 852.71,103.66 853.69,103.01 854.69,102.37 855.69,101.75 856.7,101.13 857.72,100.52 858.75,99.93 859.79,99.34 860.83,98.77 861.89,98.21 862.95,97.66 864.03,97.12 865.11,96.59 866.2,96.07 867.3,95.56 868.41,95.07 869.53,94.58 870.66,94.11 871.8,93.65 872.95,93.2 874.1,92.77 875.27,92.35 876.44,91.93 877.63,91.54 878.82,91.15 880.02,90.77 881.23,90.41 882.46,90.06 883.69,89.73 884.93,89.41 886.18,89.1 887.44,88.8 888.71,88.52 889.99,88.25 891.28,87.99 892.57,87.75 893.88,87.52 895.2,87.3 896.37,86.98 897.54,86.67 898.71,86.37 899.88,86.08 901.05,85.79 902.22,85.5 903.4,85.22 904.58,84.95 905.75,84.68 906.93,84.42 908.11,84.16 909.29,83.91 910.48,83.66 911.66,83.42 912.84,83.18 914.03,82.95 915.21,82.72 916.4,82.49 917.59,82.27 918.77,82.05 919.96,81.83 921.15,81.62 922.34,81.41 923.53,81.2 924.72,80.99 925.91,80.79 927.1,80.59 928.3,80.39 929.49,80.2 930.68,80 931.87,79.81 933.07,79.62 934.26,79.42 935.45,79.23 936.65,79.04 937.84,78.86 939.04,78.67 940.23,78.48 941.42,78.29 942.62,78.1 943.81,77.91 945.01,77.72 946.2,77.53 947.39,77.34 948.58,77.15 949.78,76.96 950.97,76.77 952.16,76.57 953.36,76.38 954.55,76.18 955.74,75.99 956.93,75.79 958.12,75.6 959.32,75.4 960.51,75.2 961.7,75 962.89,74.81 964.08,74.61 965.27,74.41 966.46,74.21 967.65,74.01 968.84,73.8 970.04,73.6 971.23,73.4 972.42,73.2 973.61,72.99 974.8,72.79 975.99,72.59 977.18,72.38 978.37,72.18 979.56,71.97 980.75,71.77 981.94,71.56 983.13,71.36 984.32,71.15 985.51,70.94 986.7,70.73 987.89,70.53 989.07,70.32 990.26,70.11 991.45,69.9 992.64,69.69 993.83,69.48 995.02,69.27 996.21,69.07 997.4,68.86 998.59,68.65 999.78,68.43 1000.97,68.22 1002.16,68.01 1003.35,67.8 1004.54,67.59 1005.73,67.38 1006.92,67.17 1008.11,66.96 1009.3,66.75 1010.48,66.53 1011.67,66.32 1012.86,66.11 1014.05,65.9 1015.24,65.69 1016.43,65.47 1017.62,65.26 1018.81,65.05 1020,64.84 1021.19,64.63 1022.38,64.41 1023.57,64.2 1024.76,63.99 1025.95,63.78 1027.14,63.56 1028.33,63.35 1029.53,63.14 1030.72,62.93 1031.91,62.71 1033.1,62.5 1034.29,62.29 1035.48,62.08 1036.67,61.87 1037.86,61.66 1039.05,61.44 1040.25,61.23 1041.44,61.02 1042.63,60.81 1043.82,60.6 1045.01,60.39 1046.21,60.18 1047.4,59.97 1048.59,59.76 1049.78,59.55 1050.98,59.34 1052.17,59.14 1053.36,58.93 1054.56,58.73 1055.75,58.53 1056.95,58.34 1058.14,58.15 1059.34,57.96 1060.53,57.78 1061.73,57.61 1062.92,57.44 1064.12,57.28 1065.31,57.12 1066.51,56.97 1067.71,56.83 1068.9,56.7 1070.1,56.57 1071.3,56.46 1072.5,56.35 1073.69,56.26 1074.89,56.17 1076.09,56.1 1077.29,56.04 1078.49,55.99 1079.69,55.95 1080.89,55.92 1082.1,55.91 1083.3,55.91 1084.5,55.93 1085.7,55.96 1086.91,56 1088.11,56.05 1089.31,56.12 1090.52,56.19 1091.72,56.26 1092.93,56.34 1094.13,56.42 1095.34,56.51 1096.54,56.59 1097.75,56.67 1098.95,56.75 1100.16,56.83 1101.37,56.89 1102.57,56.95 1103.78,57 1104.98,57.04 1106.19,57.06 1107.39,57.07 1108.6,57.07 1109.8,57.04 1111.01,57 1112.21,56.94 1113.41,56.86 1114.62,56.76 1115.82,56.64 1117.02,56.51 1118.22,56.38 1119.42,56.23 1120.63,56.09 1121.83,55.94 1123.03,55.79 1124.22,55.65 1125.42,55.51 1126.62,55.39 1127.82,55.28 1129.02,55.18 1130.21,55.1 1131.41,55.04 1132.6,55Z" fill="none" stroke="#1c62a5" stroke-width="3.8" stroke-linejoin="round" stroke-linecap="round"/>
<line x1="1017.2" y1="183.5" x2="1022.7" y2="183.5" stroke="#000" stroke-width="1.8"/>
<line x1="1017.2" y1="223.2" x2="1022.7" y2="223.2" stroke="#000" stroke-width="1.8"/>
<line x1="1017.2" y1="262.9" x2="1022.7" y2="262.9" stroke="#000" stroke-width="1.8"/>
<line x1="1017.2" y1="302.6" x2="1022.7" y2="302.6" stroke="#000" stroke-width="1.8"/>
<line x1="1019.2" y1="203.35" x2="1022.7" y2="203.35" stroke="#000" stroke-width="1.8"/>
<line x1="1019.2" y1="243.05" x2="1022.7" y2="243.05" stroke="#000" stroke-width="1.8"/>
<line x1="1019.2" y1="282.75" x2="1022.7" y2="282.75" stroke="#000" stroke-width="1.8"/>
<line x1="1022.7" y1="307.4" x2="1022.7" y2="312.9" stroke="#000" stroke-width="1.8"/>
<line x1="1061.5" y1="307.4" x2="1061.5" y2="312.9" stroke="#000" stroke-width="1.8"/>
<line x1="1100.3" y1="307.4" x2="1100.3" y2="312.9" stroke="#000" stroke-width="1.8"/>
<line x1="1042.1" y1="307.4" x2="1042.1" y2="310.9" stroke="#000" stroke-width="1.8"/>
<line x1="1080.9" y1="307.4" x2="1080.9" y2="310.9" stroke="#000" stroke-width="1.8"/>
<line x1="1119.7" y1="307.4" x2="1119.7" y2="310.9" stroke="#000" stroke-width="1.8"/>
<rect x="1022.7" y="168.4" width="112.9" height="139" fill="none" stroke="#000" stroke-width="1.8"/>
<text x="1013.78" y="189.52" font-size="21.3" text-anchor="end">0.000</text>
<text x="1014.17" y="230.05" font-size="21.3" text-anchor="end">-0.0008</text>
<text x="1014.26" y="269.75" font-size="21.3" text-anchor="end">-0.0016</text>
<text x="1013.68" y="309.73" font-size="21.3" text-anchor="end">-0.0024</text>
<text x="1022.7" y="331.3" font-size="21.3" text-anchor="middle">0.0</text>
<text x="1062.04" y="330.4" font-size="21.3" text-anchor="middle">0.5</text>
<text x="1100.3" y="330.4" font-size="21.3" text-anchor="middle">1.0</text>
<path d="M1023,183.5 1024.21,183.42 1025.43,183.36 1026.65,183.32 1027.87,183.3 1029.08,183.3 1030.3,183.33 1031.51,183.39 1032.72,183.5 1033.92,183.64 1035.11,183.82 1036.3,184.06 1037.47,184.34 1038.63,184.68 1039.78,185.08 1040.92,185.55 1042.04,186.07 1043.14,186.66 1044.22,187.29 1045.27,187.98 1046.28,188.71 1047.27,189.47 1048.21,190.27 1049.12,191.1 1049.98,191.96 1050.8,192.85 1051.59,193.76 1052.34,194.69 1053.06,195.65 1053.74,196.63 1054.38,197.64 1055,198.66 1055.58,199.7 1056.14,200.76 1056.66,201.84 1057.16,202.93 1057.63,204.04 1058.08,205.16 1058.5,206.3 1058.9,207.44 1059.27,208.6 1059.63,209.77 1059.97,210.94 1060.29,212.12 1060.59,213.31 1060.87,214.5 1061.14,215.7 1061.4,216.9 1061.64,218.1 1061.87,219.3 1062.09,220.51 1062.3,221.71 1062.5,222.92 1062.69,224.12 1062.87,225.33 1063.05,226.54 1063.22,227.75 1063.38,228.96 1063.54,230.17 1063.69,231.38 1063.84,232.59 1063.99,233.8 1064.14,235.01 1064.28,236.22 1064.43,237.42 1064.57,238.63 1064.72,239.84 1064.87,241.05 1065.02,242.25 1065.18,243.46 1065.34,244.66 1065.51,245.86 1065.68,247.06 1065.86,248.26 1066.04,249.46 1066.24,250.65 1066.44,251.84 1066.66,253.03 1066.88,254.22 1067.12,255.41 1067.37,256.59 1067.63,257.77 1067.9,258.95 1068.19,260.12 1068.5,261.29 1068.82,262.46 1069.16,263.63 1069.52,264.79 1069.89,265.95 1070.29,267.1 1070.7,268.25 1071.14,269.39 1071.6,270.53 1072.08,271.65 1072.59,272.76 1073.13,273.86 1073.69,274.94 1074.29,276 1074.91,277.03 1075.57,278.05 1076.26,279.04 1076.98,280 1077.74,280.93 1078.54,281.82 1079.37,282.69 1080.25,283.52 1081.16,284.3 1082.12,285.05 1083.12,285.76 1084.17,286.41 1085.25,287.03 1086.36,287.6 1087.5,288.12 1088.66,288.6 1089.83,289.02 1091.02,289.4 1092.22,289.72 1093.42,289.98 1094.62,290.17 1095.81,290.28 1097.01,290.31 1098.19,290.25 1099.36,290.12 1100.52,289.9 1101.66,289.6 1102.77,289.22 1103.87,288.77 1104.94,288.26 1106.01,287.69 1107.06,287.07 1108.1,286.41 1109.13,285.73 1110.15,285.02 1111.17,284.3 1112.2,283.58 1113.22,282.86 1114.25,282.15 1115.28,281.47 1116.33,280.81 1117.38,280.2 1118.45,279.63 1119.54,279.12 1120.65,278.67 1121.78,278.3 1122.93,278.01 1124.1,277.79 1125.29,277.66 1126.49,277.61 1127.7,277.63 1128.91,277.72 1130.12,277.9 1131.33,278.14 1132.53,278.46 1133.73,278.84 1134.9,279.3" fill="none" stroke="#1c62a5" stroke-width="4.0" stroke-linejoin="round" stroke-linecap="round"/>
<text x="1032.8" y="349.62" font-size="20.9">Time (min)</text>
<text transform="translate(932.2,276.5) rotate(-90)" font-size="20.8">Q-Q<tspan font-size="11.5" dy="5.8">0</tspan><tspan dy="-5.8"> (C)</tspan></text>
<line x1="91.8" y1="536.01" x2="104.8" y2="536.01" stroke="#000" stroke-width="2"/>
<line x1="91.8" y1="602.7" x2="104.8" y2="602.7" stroke="#000" stroke-width="2"/>
<line x1="91.8" y1="669.4" x2="104.8" y2="669.4" stroke="#000" stroke-width="2"/>
<line x1="91.8" y1="736.1" x2="104.8" y2="736.1" stroke="#000" stroke-width="2"/>
<line x1="91.8" y1="802.79" x2="104.8" y2="802.79" stroke="#000" stroke-width="2"/>
<line x1="97.8" y1="502.66" x2="104.8" y2="502.66" stroke="#000" stroke-width="2"/>
<line x1="97.8" y1="569.36" x2="104.8" y2="569.36" stroke="#000" stroke-width="2"/>
<line x1="97.8" y1="636.05" x2="104.8" y2="636.05" stroke="#000" stroke-width="2"/>
<line x1="97.8" y1="702.75" x2="104.8" y2="702.75" stroke="#000" stroke-width="2"/>
<line x1="97.8" y1="769.44" x2="104.8" y2="769.44" stroke="#000" stroke-width="2"/>
<line x1="97.8" y1="836.14" x2="104.8" y2="836.14" stroke="#000" stroke-width="2"/>
<line x1="104.8" y1="864.1" x2="104.8" y2="877.1" stroke="#000" stroke-width="2"/>
<line x1="198.4" y1="864.1" x2="198.4" y2="877.1" stroke="#000" stroke-width="2"/>
<line x1="292" y1="864.1" x2="292" y2="877.1" stroke="#000" stroke-width="2"/>
<line x1="385.6" y1="864.1" x2="385.6" y2="877.1" stroke="#000" stroke-width="2"/>
<line x1="479.2" y1="864.1" x2="479.2" y2="877.1" stroke="#000" stroke-width="2"/>
<line x1="151.6" y1="864.1" x2="151.6" y2="871.1" stroke="#000" stroke-width="2"/>
<line x1="245.2" y1="864.1" x2="245.2" y2="871.1" stroke="#000" stroke-width="2"/>
<line x1="338.8" y1="864.1" x2="338.8" y2="871.1" stroke="#000" stroke-width="2"/>
<line x1="432.4" y1="864.1" x2="432.4" y2="871.1" stroke="#000" stroke-width="2"/>
<line x1="526" y1="864.1" x2="526" y2="871.1" stroke="#000" stroke-width="2"/>
<rect x="104.8" y="503.1" width="443.7" height="361" fill="none" stroke="#000" stroke-width="2"/>
<text x="84.35" y="548.39" font-size="25" text-anchor="end">2.4</text>
<text x="84.46" y="613.91" font-size="25" text-anchor="end">1.2</text>
<text x="84.8" y="680.33" font-size="25" text-anchor="end">0</text>
<text x="84.8" y="746.92" font-size="25" text-anchor="end">-1.2</text>
<text x="84.8" y="813.2" font-size="25" text-anchor="end">-2.4</text>
<text x="105.24" y="906.6" font-size="25" text-anchor="middle">-1.0</text>
<text x="198.84" y="906.6" font-size="25" text-anchor="middle">0</text>
<text x="292.44" y="906.6" font-size="25" text-anchor="middle">1.0</text>
<text x="386.04" y="906.6" font-size="25" text-anchor="middle">2.0</text>
<text x="479.64" y="906.6" font-size="25" text-anchor="middle">3.0</text>
<text transform="translate(1.9,516) scale(1.08,1)" font-size="32" font-weight="bold" fill="#231f20">c</text>
<text transform="translate(19.71,829.8) rotate(-90)" font-size="25">Current density (mA/cm²)</text>
<text x="263.25" y="944.9" font-size="25.2">Voltage (V)</text>
<text x="232.3" y="589.7" font-size="24.25">Ca strippping</text>
<text x="131.02" y="657.3" font-size="24.3">Ca plating</text>
<line x1="374.6" y1="630.6" x2="399.94" y2="557.15" stroke="#231f20" stroke-width="2.2"/>
<path d="M403.2,547.7 L404.09,562.29 L399.61,558.1 L393.5,558.64 Z" fill="#231f20"/>
<line x1="181.2" y1="672.7" x2="153.78" y2="727.46" stroke="#231f20" stroke-width="2.2"/>
<path d="M149.3,736.4 L150.34,721.82 L154.23,726.56 L160.35,726.84 Z" fill="#231f20"/>
<path d="M506.5,604.1 505.67,604.96 504.83,605.82 503.98,606.67 503.12,607.52 502.26,608.36 501.39,609.19 500.51,610.02 499.62,610.84 498.72,611.65 497.82,612.46 496.91,613.25 495.99,614.04 495.06,614.81 494.13,615.58 493.19,616.34 492.23,617.08 491.28,617.82 490.31,618.54 489.33,619.25 488.35,619.95 487.36,620.64 486.36,621.32 485.35,621.98 484.34,622.63 483.31,623.26 482.28,623.88 481.24,624.48 480.2,625.07 479.14,625.65 478.08,626.2 477,626.75 475.92,627.27 474.84,627.78 473.74,628.27 472.64,628.75 471.53,629.21 470.41,629.66 469.29,630.09 468.16,630.51 467.03,630.92 465.89,631.31 464.74,631.69 463.59,632.05 462.44,632.41 461.28,632.75 460.11,633.09 458.95,633.41 457.77,633.72 456.6,634.02 455.42,634.32 454.24,634.6 453.06,634.87 451.88,635.14 450.69,635.4 449.5,635.65 448.31,635.89 447.12,636.13 445.93,636.36 444.74,636.59 443.55,636.81 442.36,637.02 441.16,637.23 439.97,637.44 438.78,637.64 437.6,637.84 436.41,638.03 435.22,638.22 434.04,638.41 432.86,638.58 431.67,638.73 430.49,638.87 429.3,638.99 428.11,639.08 426.92,639.14 425.73,639.17 424.53,639.16 423.33,639.12 422.12,639.03 420.91,638.9 419.7,638.74 418.49,638.57 417.27,638.42 416.07,638.3 414.87,638.25 413.69,638.26 412.53,638.36 411.39,638.54 410.27,638.81 409.19,639.18 408.15,639.65 407.13,640.2 406.14,640.82 405.16,641.51 404.21,642.24 403.26,643 402.32,643.79 401.38,644.59 400.44,645.38 399.49,646.18 398.54,646.97 397.59,647.76 396.64,648.55 395.68,649.33 394.72,650.11 393.76,650.88 392.79,651.64 391.82,652.4 390.84,653.14 389.85,653.87 388.86,654.59 387.87,655.29 386.86,655.99 385.85,656.66 384.84,657.33 383.82,657.97 382.79,658.59 381.75,659.2 380.7,659.79 379.65,660.35 378.58,660.9 377.51,661.42 376.44,661.93 375.35,662.41 374.26,662.88 373.16,663.32 372.05,663.75 370.94,664.17 369.82,664.56 368.69,664.94 367.56,665.3 366.42,665.65 365.28,665.98 364.13,666.29 362.97,666.59 361.81,666.88 360.65,667.15 359.48,667.41 358.31,667.65 357.13,667.88 355.95,668.1 354.76,668.31 353.58,668.51 352.38,668.7 351.19,668.87 349.99,669.04 348.79,669.2 347.59,669.34 346.38,669.48 345.17,669.61 343.97,669.74 342.75,669.85 341.54,669.96 340.33,670.06 339.11,670.15 337.9,670.24 336.68,670.33 335.47,670.41 334.25,670.48 333.03,670.55 331.82,670.62 330.6,670.68 329.38,670.74 328.17,670.8 326.96,670.85 325.74,670.91 324.53,670.96 323.32,671.01 322.11,671.05 320.9,671.1 319.69,671.14 318.48,671.18 317.27,671.22 316.06,671.25 314.85,671.29 313.64,671.32 312.44,671.35 311.23,671.38 310.02,671.41 308.82,671.44 307.61,671.46 306.41,671.49 305.21,671.51 304,671.53 302.8,671.55 301.59,671.57 300.39,671.59 299.19,671.61 297.99,671.63 296.78,671.64 295.58,671.66 294.38,671.68 293.18,671.69 291.98,671.71 290.78,671.72 289.58,671.73 288.38,671.75 287.18,671.76 285.97,671.78 284.77,671.79 283.57,671.8 282.37,671.82 281.17,671.83 279.97,671.85 278.77,671.86 277.57,671.88 276.37,671.89 275.17,671.91 273.97,671.93 272.77,671.94 271.57,671.96 270.37,671.98 269.17,672 267.97,672.02 266.77,672.05 265.56,672.07 264.36,672.1 263.16,672.12 261.96,672.15 260.76,672.18 259.55,672.21 258.35,672.24 257.15,672.28 255.94,672.31 254.74,672.35 253.53,672.39 252.33,672.43 251.12,672.47 249.92,672.52 248.71,672.57 247.5,672.62 246.3,672.67 245.09,672.72 243.88,672.78 242.67,672.84 241.46,672.9 240.25,672.97 239.04,673.03 237.83,673.1 236.62,673.18 235.41,673.25 234.2,673.32 232.98,673.39 231.77,673.46 230.56,673.53 229.35,673.59 228.14,673.65 226.93,673.71 225.72,673.76 224.51,673.81 223.31,673.85 222.1,673.88 220.9,673.93 219.7,673.98 218.5,674.05 217.3,674.14 216.11,674.27 214.93,674.44 213.75,674.65 212.57,674.91 211.41,675.23 210.25,675.59 209.11,676.01 207.98,676.47 206.88,676.98 205.8,677.54 204.74,678.14 203.71,678.78 202.71,679.47 201.74,680.2 200.81,680.96 199.92,681.76 199.07,682.6 198.26,683.48 197.5,684.39 196.77,685.33 196.08,686.3 195.43,687.29 194.81,688.32 194.22,689.36 193.67,690.43 193.13,691.51 192.63,692.61 192.15,693.73 191.69,694.86 191.25,696 190.82,697.15 190.42,698.31 190.02,699.47 189.64,700.64 189.27,701.81 188.9,702.97 188.54,704.14 188.19,705.3 187.85,706.47 187.51,707.63 187.17,708.79 186.85,709.95 186.52,711.11 186.21,712.27 185.9,713.43 185.59,714.59 185.29,715.75 184.99,716.91 184.7,718.07 184.41,719.24 184.12,720.4 183.84,721.56 183.56,722.72 183.29,723.89 183.02,725.05 182.75,726.22 182.48,727.39 182.21,728.55 181.95,729.72 181.69,730.9 181.43,732.07 181.17,733.25 180.91,734.42 180.65,735.6 180.4,736.79 180.14,737.97 179.89,739.16 179.63,740.35 179.37,741.54 179.12,742.73 178.85,743.93 178.58,745.12 178.3,746.31 178,747.5 177.69,748.67 177.35,749.83 176.99,750.98 176.59,752.12 176.16,753.24 175.7,754.33 175.19,755.41 174.64,756.46 174.04,757.48 173.39,758.48 172.7,759.45 171.96,760.39 171.18,761.31 170.37,762.2 169.52,763.07 168.64,763.92 167.74,764.74 166.81,765.55 165.86,766.33 164.9,767.1 163.92,767.85 162.93,768.58 161.92,769.29 160.91,769.96 159.88,770.59 158.83,771.17 157.75,771.69 156.66,772.13 155.54,772.49 154.39,772.76 153.21,772.94 152,773 152.08,771.8 152.2,770.6 152.37,769.41 152.58,768.23 152.84,767.06 153.13,765.9 153.46,764.75 153.84,763.61 154.24,762.48 154.69,761.36 155.17,760.26 155.69,759.17 156.25,758.1 156.83,757.04 157.45,756 158.1,754.98 158.78,753.98 159.49,752.99 160.23,752.03 160.99,751.09 161.78,750.17 162.6,749.27 163.45,748.4 164.31,747.55 165.2,746.72 166.12,745.93 167.05,745.16 168.01,744.42 168.98,743.71 169.98,743.03 171,742.4 172.03,741.79 173.09,741.23 174.17,740.71 175.26,740.23 176.37,739.79 177.5,739.41 178.65,739.07 179.82,738.77 181,738.53 182.2,738.32 183.41,738.14 184.63,737.97 185.86,737.81 187.09,737.64 188.34,737.46 189.56,737.23 190.74,736.92 191.84,736.5 192.84,735.94 193.71,735.22 194.48,734.37 195.16,733.42 195.77,732.39 196.34,731.33 196.88,730.25 197.39,729.15 197.87,728.04 198.33,726.93 198.76,725.8 199.17,724.66 199.56,723.51 199.93,722.35 200.29,721.19 200.62,720.02 200.94,718.84 201.25,717.66 201.54,716.48 201.83,715.3 202.1,714.11 202.37,712.93 202.63,711.74 202.89,710.56 203.14,709.38 203.39,708.2 203.64,707.03 203.89,705.85 204.14,704.68 204.39,703.52 204.64,702.35 204.89,701.18 205.15,700.02 205.4,698.85 205.66,697.69 205.93,696.52 206.19,695.35 206.47,694.18 206.74,693.01 207.03,691.84 207.32,690.67 207.62,689.49 207.93,688.31 208.24,687.13 208.57,685.94 208.9,684.75 209.27,683.58 209.69,682.43 210.16,681.32 210.71,680.26 211.36,679.26 212.1,678.33 212.95,677.49 213.88,676.73 214.88,676.05 215.94,675.45 217.04,674.94 218.17,674.51 219.32,674.17 220.49,673.89 221.67,673.67 222.86,673.49 224.06,673.34 225.26,673.2 226.47,673.08 227.67,672.96 228.87,672.84 230.08,672.73 231.28,672.62 232.49,672.51 233.69,672.41 234.89,672.31 236.1,672.22 237.3,672.13 238.51,672.04 239.71,671.96 240.92,671.87 242.12,671.8 243.33,671.72 244.53,671.65 245.74,671.58 246.94,671.51 248.14,671.44 249.35,671.38 250.55,671.32 251.76,671.26 252.96,671.2 254.17,671.15 255.37,671.09 256.58,671.04 257.78,670.99 258.98,670.94 260.19,670.89 261.39,670.84 262.6,670.79 263.8,670.75 265,670.7 266.21,670.65 267.41,670.61 268.61,670.57 269.82,670.52 271.02,670.48 272.22,670.43 273.43,670.39 274.63,670.34 275.83,670.3 277.03,670.25 278.23,670.21 279.44,670.16 280.64,670.12 281.84,670.07 283.04,670.02 284.24,669.98 285.45,669.93 286.65,669.88 287.85,669.83 289.05,669.78 290.25,669.73 291.45,669.68 292.65,669.63 293.86,669.58 295.06,669.52 296.26,669.47 297.46,669.41 298.66,669.36 299.86,669.3 301.06,669.24 302.27,669.18 303.47,669.12 304.67,669.06 305.87,669 307.07,668.93 308.27,668.87 309.47,668.8 310.68,668.73 311.88,668.66 313.08,668.59 314.28,668.52 315.48,668.44 316.69,668.36 317.89,668.28 319.09,668.2 320.29,668.12 321.5,668.04 322.7,667.95 323.9,667.86 325.11,667.77 326.31,667.68 327.51,667.59 328.72,667.49 329.92,667.39 331.12,667.29 332.33,667.19 333.53,667.09 334.74,666.98 335.94,666.87 337.15,666.76 338.35,666.64 339.56,666.52 340.76,666.4 341.97,666.28 343.18,666.16 344.38,666.03 345.59,665.9 346.8,665.76 348,665.62 349.21,665.48 350.41,665.32 351.61,665.15 352.81,664.97 354,664.77 355.18,664.56 356.36,664.32 357.53,664.07 358.69,663.78 359.84,663.48 360.98,663.14 362.12,662.77 363.24,662.37 364.34,661.94 365.44,661.47 366.52,660.96 367.58,660.41 368.63,659.81 369.66,659.18 370.68,658.49 371.67,657.77 372.63,657.02 373.57,656.23 374.48,655.41 375.36,654.57 376.2,653.7 377.01,652.81 377.79,651.9 378.54,650.97 379.26,650.01 379.95,649.04 380.62,648.06 381.27,647.05 381.89,646.03 382.49,645 383.07,643.95 383.63,642.89 384.18,641.82 384.7,640.74 385.21,639.65 385.71,638.55 386.2,637.44 386.67,636.33 387.14,635.21 387.59,634.09 388.04,632.96 388.48,631.84 388.92,630.71 389.35,629.58 389.78,628.44 390.2,627.31 390.62,626.17 391.03,625.04 391.44,623.9 391.84,622.76 392.24,621.62 392.63,620.47 393.03,619.33 393.41,618.18 393.8,617.04 394.17,615.89 394.55,614.74 394.92,613.6 395.29,612.45 395.66,611.3 396.02,610.15 396.38,608.99 396.74,607.84 397.1,606.69 397.45,605.54 397.81,604.39 398.16,603.23 398.5,602.08 398.85,600.93 399.2,599.77 399.54,598.62 399.88,597.47 400.22,596.31 400.57,595.16 400.91,594.01 401.25,592.86 401.59,591.71 401.92,590.56 402.26,589.41 402.6,588.26 402.94,587.11 403.28,585.96 403.62,584.82 403.96,583.67 404.3,582.52 404.64,581.38 404.99,580.24 405.33,579.09 405.68,577.95 406.02,576.8 406.37,575.66 406.72,574.52 407.07,573.37 407.42,572.23 407.77,571.08 408.12,569.94 408.48,568.79 408.83,567.64 409.19,566.49 409.55,565.34 409.91,564.19 410.28,563.04 410.64,561.89 411.01,560.73 411.38,559.57 411.75,558.41 412.12,557.25 412.5,556.09 412.88,554.92 413.26,553.75 413.64,552.58 414.03,551.41 414.42,550.23 414.81,549.05 415.2,547.87 415.6,546.68 416.01,545.5 416.44,544.33 416.91,543.19 417.43,542.09 418.02,541.04 418.7,540.06 419.47,539.16 420.35,538.36 421.32,537.69 422.37,537.22 423.46,536.99 424.58,537.06 425.68,537.4 426.73,537.96 427.7,538.66 428.56,539.47 429.32,540.36 429.98,541.32 430.55,542.34 431.05,543.42 431.49,544.54 431.88,545.71 432.23,546.89 432.56,548.1 432.87,549.32 433.17,550.53 433.48,551.74 433.79,552.94 434.11,554.14 434.43,555.33 434.76,556.51 435.1,557.69 435.44,558.86 435.79,560.03 436.15,561.18 436.52,562.33 436.9,563.48 437.28,564.61 437.68,565.74 438.09,566.87 438.52,567.98 438.95,569.09 439.4,570.19 439.87,571.28 440.35,572.37 440.84,573.45 441.35,574.52 441.88,575.58 442.42,576.64 442.99,577.68 443.57,578.72 444.17,579.75 444.78,580.78 445.41,581.79 446.06,582.8 446.73,583.79 447.41,584.78 448.11,585.76 448.82,586.73 449.55,587.7 450.29,588.65 451.05,589.59 451.82,590.53 452.6,591.45 453.4,592.37 454.21,593.28 455.03,594.17 455.86,595.06 456.7,595.93 457.56,596.8 458.42,597.66 459.3,598.5 460.18,599.34 461.07,600.16 461.98,600.98 462.89,601.78 463.81,602.57 464.74,603.35 465.67,604.12 466.62,604.87 467.58,605.59 468.55,606.3 469.54,606.98 470.54,607.63 471.56,608.26 472.6,608.85 473.65,609.4 474.73,609.92 475.82,610.39 476.94,610.83 478.08,611.21 479.24,611.54 480.41,611.8 481.59,611.98 482.77,612.06 483.95,612.04 485.12,611.9 486.28,611.63 487.42,611.23 488.55,610.73 489.67,610.17 490.77,609.57 491.86,608.97 492.94,608.37 494.02,607.78 495.09,607.21 496.17,606.66 497.25,606.15 498.34,605.68 499.44,605.26 500.56,604.88 501.7,604.58 502.85,604.34 504.04,604.17 505.25,604.09 506.5,604.1Z" fill="none" stroke="#eb8796" stroke-width="3.8" stroke-linejoin="round" stroke-linecap="round"/>
<line x1="410.7" y1="690.6" x2="416.2" y2="690.6" stroke="#000" stroke-width="1.8"/>
<line x1="410.7" y1="727" x2="416.2" y2="727" stroke="#000" stroke-width="1.8"/>
<line x1="410.7" y1="763.4" x2="416.2" y2="763.4" stroke="#000" stroke-width="1.8"/>
<line x1="410.7" y1="800" x2="416.2" y2="800" stroke="#000" stroke-width="1.8"/>
<line x1="412.7" y1="708.8" x2="416.2" y2="708.8" stroke="#000" stroke-width="1.8"/>
<line x1="412.7" y1="745.2" x2="416.2" y2="745.2" stroke="#000" stroke-width="1.8"/>
<line x1="412.7" y1="781.6" x2="416.2" y2="781.6" stroke="#000" stroke-width="1.8"/>
<line x1="416.2" y1="814.7" x2="416.2" y2="820.2" stroke="#000" stroke-width="1.8"/>
<line x1="455" y1="814.7" x2="455" y2="820.2" stroke="#000" stroke-width="1.8"/>
<line x1="493.8" y1="814.7" x2="493.8" y2="820.2" stroke="#000" stroke-width="1.8"/>
<line x1="435.6" y1="814.7" x2="435.6" y2="818.2" stroke="#000" stroke-width="1.8"/>
<line x1="474.4" y1="814.7" x2="474.4" y2="818.2" stroke="#000" stroke-width="1.8"/>
<line x1="513.2" y1="814.7" x2="513.2" y2="818.2" stroke="#000" stroke-width="1.8"/>
<rect x="416.2" y="675.9" width="113.1" height="138.8" fill="none" stroke="#000" stroke-width="1.8"/>
<text x="408.85" y="696.2" font-size="21.3" text-anchor="end">0.000</text>
<text x="408.85" y="733.66" font-size="21.3" text-anchor="end">-0.005</text>
<text x="408.85" y="770.8" font-size="21.3" text-anchor="end">-0.010</text>
<text x="408.85" y="807.3" font-size="21.3" text-anchor="end">-0.015</text>
<text x="415.93" y="838.78" font-size="21.3" text-anchor="middle">0.0</text>
<text x="454.73" y="838.78" font-size="21.3" text-anchor="middle">0.5</text>
<text x="493.53" y="838.78" font-size="21.3" text-anchor="middle">1.0</text>
<path d="M416.3,690.4 417.45,690.16 418.63,689.99 419.83,689.89 421.04,689.86 422.26,689.89 423.49,689.99 424.72,690.15 425.94,690.38 427.15,690.67 428.33,691.02 429.5,691.44 430.63,691.92 431.73,692.46 432.78,693.06 433.79,693.73 434.74,694.45 435.64,695.23 436.47,696.07 437.23,696.97 437.91,697.92 438.51,698.93 439.05,699.99 439.52,701.09 439.94,702.22 440.31,703.38 440.65,704.57 440.96,705.77 441.26,706.97 441.54,708.18 441.83,709.38 442.12,710.57 442.4,711.76 442.69,712.94 442.97,714.12 443.26,715.29 443.54,716.46 443.81,717.63 444.08,718.8 444.35,719.97 444.61,721.13 444.87,722.3 445.11,723.47 445.35,724.65 445.58,725.82 445.8,727 446.01,728.19 446.22,729.38 446.41,730.57 446.6,731.76 446.79,732.96 446.97,734.15 447.14,735.35 447.31,736.55 447.48,737.76 447.65,738.96 447.81,740.16 447.98,741.37 448.14,742.57 448.31,743.77 448.47,744.97 448.64,746.17 448.8,747.37 448.97,748.57 449.14,749.77 449.31,750.97 449.47,752.17 449.64,753.37 449.8,754.57 449.97,755.76 450.13,756.96 450.3,758.16 450.46,759.35 450.62,760.55 450.78,761.75 450.93,762.94 451.09,764.14 451.24,765.33 451.39,766.53 451.54,767.72 451.68,768.92 451.83,770.11 451.97,771.31 452.1,772.5 452.24,773.7 452.37,774.9 452.51,776.09 452.64,777.29 452.77,778.49 452.91,779.69 453.04,780.89 453.18,782.09 453.32,783.29 453.46,784.5 453.61,785.7 453.75,786.91 453.91,788.12 454.06,789.33 454.23,790.55 454.39,791.76 454.57,792.98 454.75,794.2 454.93,795.43 455.14,796.65 455.39,797.83 455.74,798.95 456.21,799.98 456.85,800.87 457.69,801.6 458.7,802.18 459.84,802.63 461.07,802.96 462.33,803.19 463.6,803.32 464.88,803.37 466.15,803.32 467.41,803.17 468.65,802.92 469.85,802.57 471.01,802.12 472.1,801.57 473.1,800.94 474.01,800.22 474.83,799.41 475.56,798.54 476.22,797.6 476.81,796.6 477.34,795.55 477.83,794.46 478.27,793.34 478.68,792.19 479.06,791.02 479.43,789.84 479.79,788.65 480.15,787.47 480.52,786.29 480.88,785.11 481.25,783.94 481.61,782.77 481.98,781.6 482.35,780.44 482.72,779.27 483.09,778.11 483.46,776.96 483.83,775.8 484.2,774.65 484.58,773.49 484.95,772.34 485.32,771.2 485.7,770.05 486.07,768.9 486.45,767.76 486.82,766.61 487.19,765.47 487.57,764.33 487.94,763.19 488.32,762.05 488.69,760.9 489.06,759.76 489.44,758.62 489.81,757.48 490.18,756.34 490.55,755.2 490.92,754.05 491.29,752.91 491.66,751.76 492.03,750.62 492.39,749.47 492.76,748.32 493.13,747.17 493.49,746.02 493.85,744.87 494.21,743.71 494.58,742.56 494.94,741.4 495.3,740.25 495.67,739.09 496.04,737.93 496.41,736.78 496.78,735.62 497.16,734.47 497.54,733.32 497.93,732.17 498.33,731.02 498.73,729.88 499.14,728.74 499.56,727.6 499.99,726.47 500.42,725.34 500.87,724.22 501.32,723.1 501.79,721.98 502.27,720.87 502.77,719.77 503.27,718.68 503.8,717.59 504.33,716.51 504.89,715.44 505.46,714.37 506.05,713.32 506.66,712.27 507.3,711.23 507.95,710.21 508.62,709.19 509.32,708.18 510.05,707.2 510.8,706.24 511.6,705.35 512.45,704.52 513.36,703.78 514.33,703.15 515.37,702.64 516.49,702.27 517.68,702.05 518.94,701.96 520.23,701.98 521.54,702.09 522.85,702.28 524.13,702.51 525.37,702.78 526.54,703.07 527.62,703.35 528.6,703.6" fill="none" stroke="#eb8796" stroke-width="4.0" stroke-linejoin="round" stroke-linecap="round"/>
<text x="427.2" y="858.52" font-size="20.9">Time (min)</text>
<text transform="translate(334.8,782) rotate(-90)" font-size="20.8">Q-Q<tspan font-size="11.5" dy="5.8">0</tspan><tspan dy="-5.8"> (C)</tspan></text>
<line x1="718" y1="864" x2="731" y2="864" stroke="#000" stroke-width="2"/>
<line x1="718" y1="757.6" x2="731" y2="757.6" stroke="#000" stroke-width="2"/>
<line x1="718" y1="651.2" x2="731" y2="651.2" stroke="#000" stroke-width="2"/>
<line x1="718" y1="544.8" x2="731" y2="544.8" stroke="#000" stroke-width="2"/>
<line x1="724" y1="810.8" x2="731" y2="810.8" stroke="#000" stroke-width="2"/>
<line x1="724" y1="704.4" x2="731" y2="704.4" stroke="#000" stroke-width="2"/>
<line x1="724" y1="598" x2="731" y2="598" stroke="#000" stroke-width="2"/>
<line x1="767.3" y1="864" x2="767.3" y2="877" stroke="#000" stroke-width="2"/>
<line x1="860" y1="864" x2="860" y2="877" stroke="#000" stroke-width="2"/>
<line x1="952.7" y1="864" x2="952.7" y2="877" stroke="#000" stroke-width="2"/>
<line x1="1045.4" y1="864" x2="1045.4" y2="877" stroke="#000" stroke-width="2"/>
<line x1="1138.1" y1="864" x2="1138.1" y2="877" stroke="#000" stroke-width="2"/>
<line x1="813.65" y1="864" x2="813.65" y2="871" stroke="#000" stroke-width="2"/>
<line x1="906.35" y1="864" x2="906.35" y2="871" stroke="#000" stroke-width="2"/>
<line x1="999.05" y1="864" x2="999.05" y2="871" stroke="#000" stroke-width="2"/>
<line x1="1091.75" y1="864" x2="1091.75" y2="871" stroke="#000" stroke-width="2"/>
<rect x="731" y="503.1" width="442.9" height="360.9" fill="none" stroke="#000" stroke-width="2"/>
<text x="709.27" y="874.96" font-size="25" text-anchor="end">0</text>
<text x="709.04" y="768.66" font-size="25" text-anchor="end">50</text>
<text x="710.08" y="663.68" font-size="25" text-anchor="end">100</text>
<text x="709.72" y="555.76" font-size="25" text-anchor="end">150</text>
<text x="766.98" y="907.85" font-size="25" text-anchor="middle">0</text>
<text x="859.68" y="907.85" font-size="25" text-anchor="middle">50</text>
<text x="952.38" y="907.85" font-size="25" text-anchor="middle">100</text>
<text x="1045.08" y="907.85" font-size="25" text-anchor="middle">150</text>
<text x="1137.78" y="907.85" font-size="25" text-anchor="middle">200</text>
<text transform="translate(627.85,516) scale(1.08,1)" font-size="32" font-weight="bold" fill="#231f20">d</text>
<text transform="translate(645.8,746.2) rotate(-90)" font-size="25.4">-Z’’ (Ohm)</text>
<text x="901.1" y="943" font-size="25">Z’ (Ohm)</text>
<rect x="777.7" y="547.3" width="11.2" height="11.2" fill="#0a8484"/>
<text x="800.56" y="559.86" font-size="24.3">1st</text>
<rect x="777.7" y="576.3" width="11.2" height="11.2" fill="#1469b4"/>
<text x="799.75" y="589.28" font-size="24.3">50th</text>
<rect x="777.7" y="605.3" width="11.2" height="11.2" fill="#eb050a"/>
<text x="800.52" y="618.48" font-size="24.3">100th</text>
<g fill="#fff"><rect x="51.52" y="122.83" width="6.03" height="2.77"/><rect x="59.75" y="122.83" width="4.77" height="2.77"/><rect x="50.61" y="256.39" width="6.03" height="2.77"/><rect x="58.83" y="256.39" width="4.77" height="2.77"/><rect x="92.27" y="414.95" width="6.03" height="2.77"/><rect x="100.49" y="414.95" width="4.77" height="2.77"/><rect x="275.32" y="414.95" width="6.03" height="2.77"/><rect x="283.54" y="414.95" width="4.77" height="2.77"/><rect x="385.19" y="275.66" width="5.13" height="2.5"/><rect x="392.2" y="275.66" width="4.07" height="2.5"/><rect x="385.19" y="312.04" width="5.13" height="2.5"/><rect x="392.2" y="312.04" width="4.07" height="2.5"/><rect x="479.16" y="345.05" width="5.13" height="2.5"/><rect x="486.17" y="345.05" width="4.07" height="2.5"/><rect x="695.23" y="155.92" width="6.03" height="2.77"/><rect x="703.45" y="155.92" width="4.77" height="2.77"/><rect x="718.02" y="415.38" width="6.03" height="2.77"/><rect x="726.24" y="415.38" width="4.77" height="2.77"/><rect x="901.07" y="415.38" width="6.03" height="2.77"/><rect x="909.29" y="415.38" width="4.77" height="2.77"/><rect x="990.77" y="267.8" width="5.13" height="2.5"/><rect x="997.78" y="267.8" width="4.07" height="2.5"/><rect x="1085.71" y="328.45" width="5.13" height="2.5"/><rect x="1092.72" y="328.45" width="4.07" height="2.5"/><rect x="49.94" y="611.68" width="6.03" height="2.77"/><rect x="58.17" y="611.68" width="4.77" height="2.77"/><rect x="50.27" y="744.69" width="6.03" height="2.77"/><rect x="58.49" y="744.69" width="4.77" height="2.77"/><rect x="92.26" y="904.37" width="6.03" height="2.77"/><rect x="100.48" y="904.37" width="4.77" height="2.77"/><rect x="275.31" y="904.37" width="6.03" height="2.77"/><rect x="283.53" y="904.37" width="4.77" height="2.77"/><rect x="385.36" y="768.85" width="5.13" height="2.5"/><rect x="392.37" y="768.85" width="4.07" height="2.5"/><rect x="385.36" y="805.35" width="5.13" height="2.5"/><rect x="392.37" y="805.35" width="4.07" height="2.5"/><rect x="478.94" y="836.83" width="5.13" height="2.5"/><rect x="485.95" y="836.83" width="4.07" height="2.5"/><rect x="668.61" y="661.45" width="6.03" height="2.77"/><rect x="676.84" y="661.45" width="4.77" height="2.77"/><rect x="668.25" y="553.54" width="6.03" height="2.77"/><rect x="676.48" y="553.54" width="4.77" height="2.77"/><rect x="931.77" y="905.62" width="6.03" height="2.77"/><rect x="940" y="905.62" width="4.77" height="2.77"/><rect x="1024.47" y="905.62" width="6.03" height="2.77"/><rect x="1032.7" y="905.62" width="4.77" height="2.77"/><rect x="800.8" y="557.69" width="5.86" height="2.72"/><rect x="808.8" y="557.69" width="4.64" height="2.72"/><rect x="800.76" y="616.31" width="5.86" height="2.72"/><rect x="808.76" y="616.31" width="4.64" height="2.72"/></g>
</svg>
</body></html>
